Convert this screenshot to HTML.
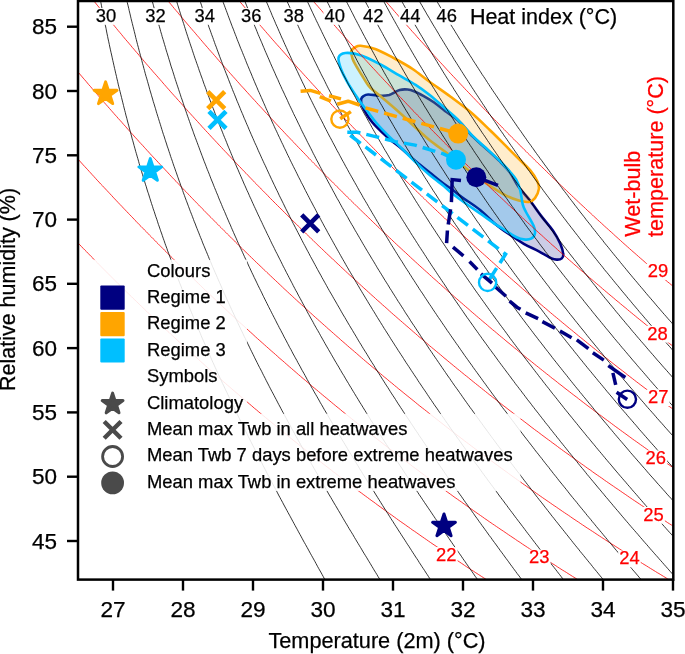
<!DOCTYPE html>
<html><head><meta charset="utf-8"><style>html,body{margin:0;padding:0;background:#fff;overflow:hidden}svg{display:block;will-change:transform}</style></head>
<body><svg width="685" height="654" viewBox="0 0 685 654"><defs><clipPath id="pc"><rect x="78" y="1" width="595" height="578.5"/></clipPath></defs><rect width="685" height="654" fill="#fff"/><path d="M361.3,98.9 C361.6,97.6 362.4,96.9 363.5,96.2 C364.6,95.5 365.1,94.6 368.1,94.5 C371.1,94.4 377.8,95.7 381.3,95.8 C384.8,95.9 387.0,95.6 389.2,95.1 C391.4,94.5 392.6,93.4 394.4,92.5 C396.1,91.6 397.5,90.4 399.7,89.9 C401.9,89.4 405.2,89.3 407.6,89.5 C410.0,89.7 411.5,90.2 414.1,91.2 C416.7,92.2 420.0,94.0 423.3,95.8 C426.6,97.6 430.2,99.8 433.8,102.3 C437.4,104.8 440.9,107.8 445.0,110.9 C449.1,114.0 453.9,116.5 458.5,120.8 C463.1,125.1 468.3,132.1 472.9,136.7 C477.5,141.3 481.6,144.5 486.0,148.5 C490.4,152.5 495.2,156.8 499.1,160.7 C503.0,164.6 506.5,167.8 509.6,172.0 C512.8,176.2 514.7,181.3 518.0,186.0 C521.3,190.7 525.7,195.0 529.6,200.0 C533.5,205.0 537.4,211.0 541.3,216.1 C545.2,221.2 549.8,226.1 553.0,230.7 C556.2,235.3 558.6,239.9 560.3,243.8 C562.0,247.7 563.0,251.6 563.2,254.0 C563.5,256.4 562.8,257.5 561.8,258.4 C560.8,259.3 559.1,259.6 557.4,259.6 C555.7,259.6 554.7,259.8 551.5,258.4 C548.3,257.0 543.0,253.5 538.4,251.1 C533.8,248.7 528.7,246.6 523.8,243.8 C518.9,241.0 514.1,237.7 509.2,234.3 C504.3,230.9 499.5,227.5 494.6,223.4 C489.8,219.3 485.6,214.3 480.1,209.9 C474.6,205.5 466.4,200.5 461.7,197.1 C457.0,193.7 455.0,191.5 452.0,189.3 C449.0,187.1 447.5,186.6 443.8,183.8 C440.1,181.1 434.6,176.5 430.0,172.8 C425.4,169.1 420.9,165.7 416.3,161.8 C411.7,157.9 407.1,153.3 402.5,149.4 C397.9,145.5 393.4,142.4 388.8,138.4 C384.2,134.4 378.3,128.7 375.0,125.3 C371.7,121.9 370.8,120.5 369.0,118.0 C367.2,115.5 365.8,112.8 364.5,110.5 C363.2,108.2 362.0,105.9 361.5,104.0 C361.0,102.1 361.0,100.2 361.3,98.9Z" fill="#000080" fill-opacity="0.2" stroke="#000080" stroke-width="2.6" stroke-linejoin="round"/><path d="M351.4,50.7 C351.9,48.8 354.0,48.0 355.5,47.2 C357.0,46.4 357.2,45.5 360.6,45.8 C364.0,46.1 370.3,47.1 375.9,49.2 C381.5,51.3 388.1,55.0 394.2,58.3 C400.3,61.6 406.8,65.1 412.6,69.0 C418.4,72.9 422.9,76.9 429.2,81.5 C435.5,86.1 443.7,91.7 450.6,96.8 C457.5,101.9 463.9,106.5 470.5,112.1 C477.1,117.7 484.4,124.9 490.3,130.5 C496.2,136.1 501.2,141.3 505.6,145.7 C510.0,150.1 512.6,152.7 516.7,156.8 C520.9,161.0 527.1,166.5 530.5,170.6 C533.9,174.7 535.9,178.2 537.3,181.3 C538.7,184.4 539.3,186.1 538.9,188.9 C538.5,191.7 536.7,195.9 535.0,198.1 C533.3,200.3 531.6,201.5 528.9,201.9 C526.2,202.3 522.7,201.7 518.8,200.6 C514.9,199.5 510.1,197.6 505.7,195.4 C501.3,193.2 497.0,190.4 492.6,187.6 C488.2,184.8 484.2,181.9 479.4,178.4 C474.6,174.9 468.3,170.0 463.7,166.5 C459.1,163.0 455.3,159.9 452.0,157.3 C448.7,154.7 447.5,153.6 443.8,150.8 C440.1,148.0 434.6,144.3 430.0,140.6 C425.4,136.8 420.7,132.4 416.3,128.3 C411.9,124.3 407.7,120.0 403.6,116.3 C399.6,112.6 395.6,109.1 392.0,106.0 C388.4,102.9 385.0,100.0 382.0,97.5 C379.0,95.0 376.3,93.0 374.0,91.0 C371.7,89.0 370.3,88.0 368.3,85.4 C366.3,82.8 363.9,78.5 361.9,75.3 C359.9,72.1 357.9,68.9 356.3,66.1 C354.7,63.3 353.3,61.1 352.5,58.5 C351.7,55.9 350.9,52.6 351.4,50.7Z" fill="#FFA500" fill-opacity="0.2" stroke="#FFA500" stroke-width="2.6" stroke-linejoin="round"/><path d="M338.6,57.5 C339.4,54.9 341.6,53.4 345.3,53.0 C349.0,52.6 354.7,53.4 360.6,55.3 C366.5,57.2 374.1,61.2 380.5,64.5 C386.9,67.8 392.9,71.8 398.8,75.2 C404.7,78.6 410.4,81.5 415.6,84.8 C420.8,88.1 425.1,91.3 430.0,95.2 C434.9,99.1 440.2,104.1 445.0,108.3 C449.8,112.5 453.9,115.7 458.5,120.3 C463.1,124.9 468.3,131.6 472.9,136.2 C477.5,140.8 481.6,144.0 486.0,148.0 C490.4,152.0 495.2,156.3 499.1,160.2 C503.0,164.1 506.8,168.1 509.6,171.3 C512.5,174.6 514.4,176.5 516.2,179.7 C518.0,182.8 519.1,186.0 520.2,190.2 C521.3,194.3 521.8,201.0 522.8,204.6 C523.8,208.2 524.2,208.5 526.0,212.0 C527.8,215.5 532.0,222.0 533.5,225.6 C535.0,229.2 535.4,231.1 535.0,233.3 C534.6,235.5 533.0,237.7 531.1,238.7 C529.2,239.7 526.2,239.7 523.8,239.4 C521.4,239.2 518.9,238.3 516.5,237.2 C514.1,236.1 512.7,235.0 509.2,232.8 C505.7,230.6 500.2,227.3 495.3,224.1 C490.4,220.9 485.1,216.9 480.0,213.4 C474.9,209.9 469.7,206.3 465.0,203.0 C460.3,199.7 455.5,196.1 452.0,193.3 C448.5,190.5 447.5,189.0 443.8,186.0 C440.1,183.0 434.6,179.2 430.0,175.3 C425.4,171.5 420.9,167.3 416.3,162.9 C411.7,158.5 407.1,153.6 402.5,149.1 C397.9,144.6 393.2,140.4 388.8,136.1 C384.4,131.8 379.8,127.0 376.4,123.0 C372.9,119.0 370.8,115.9 368.1,112.3 C365.4,108.7 362.4,104.8 360.0,101.4 C357.6,98.0 355.7,95.3 353.6,92.1 C351.5,88.8 349.3,85.8 347.2,81.9 C345.1,78.0 342.2,72.6 340.8,68.5 C339.4,64.4 337.9,60.1 338.6,57.5Z" fill="#00BFFF" fill-opacity="0.2" stroke="#00BFFF" stroke-width="2.6" stroke-linejoin="round"/><g clip-path="url(#pc)" fill="none"><path d="M78.0,242.9 79.7,244.7 81.5,246.6 83.2,248.4 84.9,250.1 86.5,251.7 88.1,253.3 89.6,254.9 91.2,256.5 92.8,258.1 94.3,259.7 95.9,261.3 97.5,262.9 99.1,264.5 100.7,266.2 102.5,268.0 104.2,269.7 106.0,271.5 107.8,273.3 109.5,275.0 111.3,276.8 113.0,278.5 114.7,280.2 116.5,282.0 118.2,283.7 120.0,285.4 121.6,287.0 123.3,288.7 124.9,290.3 126.5,291.9 128.2,293.5 129.8,295.1 131.5,296.7 133.1,298.3 134.8,299.9 136.4,301.5 138.1,303.1 139.8,304.7 141.4,306.3 143.1,307.9 144.8,309.5 146.5,311.2 148.1,312.8 149.8,314.4 151.5,316.0 153.2,317.6 155.0,319.3 156.8,320.9 158.5,322.6 160.3,324.2 162.0,325.9 163.8,327.5 165.5,329.2 167.2,330.8 169.0,332.4 170.7,334.1 172.5,335.7 174.2,337.3 176.0,338.9 177.8,340.6 179.5,342.2 181.3,343.8 183.0,345.4 184.7,347.0 186.5,348.6 188.2,350.2 190.0,351.8 191.8,353.4 193.5,355.0 195.3,356.5 197.0,358.1 198.8,359.7 200.5,361.3 202.2,362.8 204.0,364.4 205.7,366.0 207.5,367.5 209.2,369.1 211.0,370.6 212.8,372.2 214.6,373.8 216.4,375.4 218.2,377.0 220.1,378.6 221.9,380.3 223.7,381.9 225.6,383.5 227.4,385.1 229.3,386.7 231.1,388.3 233.0,389.9 234.8,391.5 236.7,393.1 238.6,394.7 240.5,396.3 242.3,397.9 244.2,399.5 246.0,401.1 247.8,402.5 249.5,404.0 251.3,405.5 253.0,407.0 254.7,408.5 256.5,409.9 258.2,411.4 260.0,412.9 261.8,414.4 263.5,415.8 265.3,417.3 267.1,418.8 269.0,420.4 271.0,422.0 272.9,423.6 274.9,425.2 276.8,426.9 278.8,428.5 280.8,430.1 282.7,431.7 284.5,433.1 286.3,434.5 288.0,436.0 289.7,437.4 291.5,438.8 293.2,440.2 295.0,441.6 296.8,443.0 298.6,444.5 300.6,446.1 302.7,447.7 304.7,449.4 306.7,451.0 308.7,452.6 310.7,454.2 312.5,455.5 314.2,456.9 316.0,458.3 317.8,459.7 319.5,461.0 321.3,462.4 323.1,463.8 325.1,465.4 327.2,467.0 329.3,468.6 331.4,470.2 333.4,471.9 335.3,473.2 337.0,474.6 338.8,475.9 340.5,477.3 342.2,478.6 344.0,479.9 346.1,481.5 348.2,483.1 350.3,484.7 352.5,486.3 354.5,487.8 356.3,489.2 358.0,490.5 359.7,491.8 361.5,493.1 363.2,494.4 365.4,496.0 367.6,497.6 369.7,499.2 371.9,500.8 373.8,502.1 375.5,503.4 377.2,504.7 379.0,506.0 380.7,507.2 382.9,508.8 385.1,510.4 387.3,512.0 389.5,513.6 391.3,514.8 393.0,516.1 394.7,517.3 396.5,518.6 398.5,520.1 400.8,521.7 403.1,523.3 405.3,524.8 407.0,526.1 408.8,527.3 410.5,528.5 412.2,529.8 414.5,531.3 416.8,532.9 419.1,534.5 421.0,535.9 422.8,537.1 424.5,538.3 426.3,539.5 428.4,541.0 430.7,542.6 433.0,544.2 435.0,545.5 436.8,546.7 438.5,547.9 440.3,549.1 442.5,550.6 444.9,552.2 447.2,553.8 449.0,555.0 450.7,556.2 452.5,557.3 454.4,558.6 456.8,560.2 459.3,561.8 461.3,563.2 463.0,564.3 464.7,565.5 466.5,566.7 469.0,568.3 471.4,569.9 473.5,571.2 475.2,572.4 477.0,573.5 478.8,574.7 481.3,576.3 483.8,577.9 485.8,579.2 486.3,579.5" stroke="#ff0000" stroke-width="0.8"/><path d="M78.0,159.1 79.7,161.0 81.5,163.0 83.2,164.9 84.7,166.5 86.2,168.1 87.7,169.7 89.1,171.3 90.6,172.9 92.1,174.6 93.8,176.4 95.5,178.3 97.2,180.2 99.0,182.1 100.7,184.0 102.5,185.8 104.0,187.4 105.5,189.0 107.0,190.6 108.5,192.2 110.0,193.8 111.5,195.4 113.0,197.1 114.7,198.9 116.5,200.8 118.2,202.6 120.0,204.5 121.8,206.3 123.5,208.2 125.2,209.9 126.7,211.5 128.2,213.1 129.8,214.7 131.3,216.3 132.9,217.9 134.4,219.6 136.0,221.2 137.5,222.8 139.2,224.6 141.0,226.4 142.8,228.2 144.5,230.0 146.3,231.7 148.0,233.5 149.7,235.3 151.5,237.1 153.2,238.8 154.8,240.4 156.4,242.1 158.0,243.7 159.6,245.3 161.2,246.9 162.8,248.5 164.4,250.1 166.0,251.7 167.6,253.3 169.2,254.9 170.8,256.5 172.5,258.2 174.2,259.9 176.0,261.7 177.8,263.4 179.5,265.1 181.3,266.8 183.0,268.6 184.7,270.3 186.5,272.0 188.2,273.7 190.0,275.4 191.8,277.1 193.5,278.8 195.3,280.5 197.0,282.2 198.7,283.8 200.4,285.4 202.1,287.0 203.7,288.7 205.4,290.3 207.1,291.9 208.8,293.5 210.5,295.1 212.2,296.7 213.9,298.3 215.6,299.9 217.3,301.5 219.0,303.1 220.7,304.7 222.4,306.3 224.1,307.9 225.9,309.5 227.6,311.2 229.3,312.8 231.0,314.4 232.8,316.0 234.5,317.6 236.3,319.2 238.0,320.8 239.7,322.4 241.5,324.0 243.3,325.6 245.0,327.2 246.8,328.8 248.5,330.4 250.3,332.0 252.1,333.6 253.9,335.3 255.6,336.9 257.4,338.5 259.2,340.1 261.0,341.7 262.8,343.3 264.6,344.9 266.4,346.5 268.2,348.1 270.0,349.7 271.8,351.3 273.7,352.9 275.5,354.5 277.3,356.1 279.1,357.8 281.0,359.4 282.8,360.9 284.5,362.4 286.3,364.0 288.0,365.5 289.7,367.0 291.5,368.5 293.2,370.0 295.0,371.5 296.8,373.1 298.5,374.6 300.3,376.1 302.0,377.6 303.8,379.1 305.5,380.5 307.2,382.0 309.0,383.5 310.8,385.1 312.7,386.7 314.6,388.3 316.6,389.9 318.5,391.5 320.4,393.1 322.3,394.7 324.2,396.3 326.2,397.9 328.1,399.5 330.0,401.1 331.8,402.6 333.5,404.0 335.2,405.4 337.0,406.9 338.8,408.3 340.5,409.7 342.2,411.2 344.0,412.6 345.7,414.0 347.7,415.6 349.7,417.2 351.7,418.8 353.7,420.4 355.7,422.0 357.7,423.6 359.7,425.2 361.5,426.7 363.2,428.1 365.0,429.5 366.8,430.9 368.5,432.3 370.2,433.7 372.0,435.0 373.9,436.5 375.9,438.1 377.9,439.7 380.0,441.3 382.1,442.9 384.1,444.5 386.0,446.0 387.8,447.3 389.5,448.7 391.3,450.1 393.0,451.4 394.7,452.7 396.6,454.2 398.7,455.8 400.8,457.4 402.9,459.0 405.0,460.6 407.0,462.1 408.8,463.4 410.5,464.7 412.2,466.1 414.0,467.4 415.7,468.7 417.8,470.2 420.0,471.9 422.1,473.5 424.3,475.1 426.3,476.5 428.0,477.8 429.7,479.1 431.5,480.4 433.2,481.7 435.2,483.1 437.4,484.7 439.6,486.3 441.8,487.9 443.8,489.4 445.5,490.6 447.2,491.9 449.0,493.2 450.7,494.4 452.9,496.0 455.1,497.6 457.4,499.2 459.5,500.7 461.3,501.9 463.0,503.2 464.7,504.4 466.5,505.7 468.7,507.2 470.9,508.8 473.2,510.4 475.2,511.8 477.0,513.1 478.8,514.3 480.5,515.5 482.4,516.8 484.7,518.5 487.1,520.1 489.2,521.6 491.0,522.8 492.7,524.0 494.5,525.2 496.4,526.5 498.8,528.1 501.1,529.7 503.3,531.1 505.0,532.3 506.8,533.5 508.5,534.7 510.6,536.1 513.0,537.7 515.4,539.3 517.2,540.6 519.0,541.7 520.8,542.9 522.6,544.2 525.1,545.8 527.5,547.4 529.5,548.7 531.2,549.9 533.0,551.0 534.8,552.2 537.3,553.8 539.7,555.4 541.8,556.7 543.5,557.9 545.2,559.0 547.2,560.2 549.7,561.8 552.2,563.5 554.0,564.6 555.8,565.7 557.5,566.9 559.7,568.3 562.2,569.9 564.5,571.3 566.3,572.4 568.0,573.5 569.9,574.7 572.4,576.3 575.0,577.9 576.8,579.0 577.6,579.5" stroke="#ff0000" stroke-width="0.8"/><path d="M78.0,72.0 79.7,74.0 81.5,76.1 83.2,78.1 84.6,79.7 86.0,81.3 87.4,83.0 88.7,84.6 90.3,86.3 92.0,88.4 93.8,90.4 95.5,92.4 97.1,94.2 98.4,95.8 99.8,97.4 101.2,99.0 102.6,100.6 104.2,102.5 106.0,104.5 107.8,106.5 109.5,108.5 111.1,110.3 112.5,111.9 113.9,113.5 115.3,115.1 116.8,116.7 118.2,118.4 120.0,120.3 121.8,122.3 123.5,124.3 125.3,126.2 126.8,128.0 128.2,129.6 129.7,131.2 131.1,132.8 132.6,134.4 134.0,136.0 135.7,137.9 137.5,139.8 139.2,141.8 141.0,143.7 142.8,145.6 144.2,147.2 145.7,148.8 147.2,150.5 148.7,152.1 150.1,153.7 151.6,155.3 153.2,157.0 155.0,158.9 156.8,160.8 158.5,162.7 160.3,164.6 162.0,166.5 163.6,168.1 165.1,169.7 166.6,171.3 168.1,172.9 169.6,174.6 171.1,176.2 172.6,177.8 174.2,179.5 176.0,181.3 177.8,183.2 179.5,185.0 181.3,186.9 183.0,188.7 184.7,190.5 186.4,192.2 187.9,193.8 189.5,195.4 191.0,197.1 192.6,198.7 194.1,200.3 195.7,201.9 197.2,203.5 198.8,205.1 200.5,206.8 202.2,208.6 204.0,210.4 205.7,212.2 207.5,214.0 209.2,215.8 211.0,217.5 212.8,219.3 214.5,221.1 216.2,222.8 217.8,224.4 219.4,226.0 221.0,227.6 222.6,229.2 224.2,230.8 225.8,232.4 227.4,234.0 229.0,235.6 230.7,237.2 232.3,238.8 233.9,240.4 235.5,242.1 237.2,243.7 239.0,245.5 240.7,247.2 242.5,248.9 244.2,250.6 246.0,252.3 247.8,254.0 249.5,255.7 251.3,257.4 253.0,259.1 254.7,260.8 256.5,262.5 258.2,264.1 260.0,265.8 261.8,267.5 263.5,269.2 265.3,270.8 267.0,272.5 268.8,274.2 270.5,275.8 272.2,277.4 273.9,279.0 275.6,280.6 277.3,282.2 279.0,283.8 280.7,285.4 282.4,287.0 284.1,288.7 285.9,290.3 287.6,291.9 289.3,293.5 291.1,295.1 292.8,296.7 294.5,298.3 296.3,299.9 298.0,301.5 299.8,303.1 301.5,304.7 303.3,306.3 305.1,307.9 306.8,309.5 308.6,311.2 310.4,312.8 312.2,314.4 313.9,316.0 315.7,317.6 317.5,319.2 319.3,320.8 321.1,322.4 322.9,324.0 324.7,325.6 326.5,327.2 328.2,328.8 330.0,330.3 331.8,331.9 333.5,333.4 335.3,335.0 337.0,336.5 338.8,338.0 340.5,339.6 342.2,341.1 344.0,342.6 345.7,344.1 347.5,345.7 349.2,347.2 351.0,348.7 352.8,350.2 354.5,351.7 356.3,353.2 358.0,354.7 359.7,356.2 361.6,357.8 363.4,359.4 365.3,361.0 367.2,362.6 369.1,364.2 371.0,365.8 372.9,367.4 374.8,369.0 376.7,370.6 378.7,372.2 380.6,373.8 382.5,375.4 384.2,376.9 386.0,378.3 387.8,379.8 389.5,381.3 391.3,382.7 393.0,384.1 394.7,385.6 396.5,387.0 398.2,388.5 400.0,389.9 402.0,391.5 403.9,393.1 405.9,394.7 407.9,396.3 409.9,397.9 411.9,399.5 413.9,401.1 415.8,402.7 417.5,404.1 419.2,405.5 421.0,406.9 422.8,408.3 424.5,409.6 426.3,411.0 428.0,412.4 430.0,414.0 432.0,415.6 434.1,417.2 436.1,418.8 438.2,420.4 440.2,422.0 442.0,423.4 443.8,424.8 445.5,426.2 447.2,427.5 449.0,428.9 450.7,430.2 452.6,431.7 454.7,433.3 456.8,434.9 458.9,436.5 461.0,438.1 463.0,439.6 464.7,441.0 466.5,442.3 468.3,443.6 470.0,444.9 471.8,446.3 473.7,447.7 475.9,449.4 478.0,451.0 480.2,452.6 482.2,454.1 484.0,455.4 485.8,456.7 487.5,458.0 489.2,459.3 491.0,460.6 493.2,462.2 495.3,463.8 497.5,465.4 499.7,467.0 501.5,468.3 503.3,469.6 505.0,470.9 506.8,472.1 508.6,473.5 510.8,475.1 513.0,476.7 515.3,478.3 517.2,479.7 519.0,481.0 520.8,482.2 522.5,483.5 524.3,484.7 526.5,486.3 528.8,487.9 531.1,489.5 533.0,490.9 534.7,492.1 536.5,493.4 538.3,494.6 540.2,496.0 542.5,497.6 544.8,499.2 547.0,500.7 548.8,501.9 550.5,503.1 552.2,504.3 554.1,505.6 556.5,507.2 558.8,508.8 561.0,510.3 562.7,511.5 564.5,512.7 566.3,513.9 568.3,515.2 570.6,516.8 573.0,518.5 575.0,519.8 576.8,521.0 578.5,522.1 580.2,523.3 582.6,524.9 585.0,526.5 587.2,528.0 589.0,529.1 590.8,530.3 592.5,531.4 594.8,532.9 597.2,534.5 599.5,536.0 601.3,537.2 603.0,538.3 604.7,539.4 607.1,541.0 609.6,542.6 611.8,544.0 613.5,545.1 615.2,546.2 617.1,547.4 619.6,549.0 622.1,550.6 624.0,551.8 625.8,552.9 627.5,554.0 629.7,555.4 632.2,557.0 634.5,558.5 636.3,559.6 638.0,560.6 639.9,561.8 642.5,563.5 645.0,565.0 646.8,566.1 648.5,567.2 650.3,568.3 652.9,569.9 655.5,571.5 657.2,572.6 659.0,573.6 660.8,574.7 663.4,576.3 666.0,577.9 667.7,579.0 668.7,579.5" stroke="#ff0000" stroke-width="0.8"/><path d="M93.9,1.0 95.5,3.0 97.2,5.1 99.0,7.3 100.4,9.0 101.7,10.6 103.1,12.2 104.4,13.9 106.0,15.8 107.8,18.0 109.5,20.1 111.0,21.9 112.3,23.5 113.7,25.1 115.0,26.7 116.5,28.5 118.2,30.6 120.0,32.7 121.7,34.7 123.0,36.4 124.4,38.0 125.7,39.6 127.1,41.2 128.8,43.2 130.5,45.2 132.2,47.3 133.9,49.2 135.2,50.8 136.6,52.4 138.0,54.0 139.3,55.6 141.0,57.6 142.8,59.6 144.5,61.7 146.2,63.7 147.6,65.3 149.0,66.9 150.4,68.5 151.8,70.1 153.2,71.8 155.0,73.8 156.8,75.8 158.5,77.8 160.2,79.7 161.6,81.3 163.0,83.0 164.4,84.6 165.8,86.2 167.2,87.8 169.0,89.8 170.7,91.8 172.5,93.8 174.2,95.7 175.8,97.4 177.2,99.0 178.6,100.6 180.1,102.2 181.5,103.8 183.0,105.5 184.7,107.5 186.5,109.4 188.2,111.4 190.0,113.3 191.6,115.1 193.1,116.7 194.5,118.3 196.0,119.9 197.5,121.5 198.9,123.1 200.5,124.8 202.2,126.8 204.0,128.7 205.7,130.6 207.5,132.5 209.3,134.4 210.7,136.0 212.2,137.6 213.7,139.2 215.2,140.8 216.7,142.4 218.2,144.0 219.7,145.7 221.5,147.5 223.2,149.4 225.0,151.3 226.8,153.1 228.5,155.0 230.3,156.8 231.8,158.5 233.3,160.1 234.9,161.7 236.4,163.3 237.9,164.9 239.5,166.5 241.0,168.1 242.5,169.7 244.2,171.5 246.0,173.3 247.8,175.1 249.5,177.0 251.3,178.8 253.0,180.6 254.7,182.4 256.5,184.2 258.1,185.8 259.7,187.4 261.2,189.0 262.8,190.6 264.4,192.2 266.0,193.8 267.6,195.4 269.1,197.1 270.7,198.7 272.3,200.3 274.0,202.0 275.7,203.7 277.5,205.5 279.2,207.2 281.0,209.0 282.8,210.7 284.5,212.5 286.3,214.2 288.0,215.9 289.7,217.7 291.5,219.4 293.2,221.1 294.9,222.8 296.6,224.4 298.2,226.0 299.8,227.6 301.5,229.2 303.1,230.8 304.8,232.4 306.4,234.0 308.1,235.6 309.8,237.2 311.4,238.8 313.1,240.4 314.8,242.1 316.4,243.7 318.1,245.3 319.8,246.9 321.5,248.5 323.2,250.1 324.8,251.7 326.5,253.3 328.2,254.9 330.0,256.6 331.8,258.2 333.5,259.9 335.3,261.5 337.0,263.2 338.8,264.8 340.5,266.4 342.2,268.1 344.0,269.7 345.7,271.3 347.5,273.0 349.2,274.6 351.0,276.2 352.8,277.8 354.5,279.4 356.3,281.0 358.0,282.6 359.7,284.2 361.5,285.8 363.2,287.4 365.0,289.0 366.8,290.6 368.5,292.2 370.3,293.8 372.0,295.4 373.8,296.9 375.5,298.5 377.2,300.1 379.0,301.6 380.8,303.2 382.5,304.8 384.3,306.3 386.1,307.9 387.9,309.5 389.7,311.2 391.5,312.8 393.3,314.4 395.2,316.0 397.0,317.6 398.8,319.2 400.7,320.8 402.5,322.4 404.4,324.0 406.2,325.6 408.1,327.2 409.9,328.8 411.8,330.4 413.6,332.0 415.5,333.6 417.4,335.3 419.2,336.9 421.0,338.3 422.8,339.8 424.5,341.3 426.3,342.8 428.0,344.3 429.7,345.8 431.5,347.3 433.2,348.7 435.0,350.2 436.8,351.7 438.5,353.1 440.3,354.6 442.1,356.1 444.0,357.8 446.0,359.4 447.9,361.0 449.8,362.6 451.8,364.2 453.7,365.8 455.7,367.4 457.6,369.0 459.5,370.5 461.3,372.0 463.0,373.4 464.7,374.8 466.5,376.2 468.3,377.6 470.0,379.1 471.8,380.5 473.5,381.9 475.5,383.5 477.5,385.1 479.5,386.7 481.5,388.3 483.5,389.9 485.5,391.5 487.5,393.1 489.2,394.5 491.0,395.8 492.7,397.2 494.5,398.6 496.3,400.0 498.0,401.4 499.8,402.8 501.8,404.4 503.9,406.0 506.0,407.6 508.0,409.2 510.1,410.8 512.0,412.2 513.8,413.6 515.5,414.9 517.2,416.3 519.0,417.6 520.8,419.0 522.7,420.4 524.8,422.0 526.9,423.6 529.0,425.2 531.1,426.9 533.0,428.3 534.7,429.6 536.5,430.9 538.3,432.2 540.0,433.5 541.8,434.9 544.0,436.5 546.1,438.1 548.3,439.7 550.5,441.3 552.2,442.6 554.0,443.9 555.8,445.2 557.5,446.5 559.2,447.8 561.4,449.4 563.6,451.0 565.8,452.6 568.0,454.1 569.7,455.4 571.5,456.7 573.3,457.9 575.0,459.2 576.9,460.6 579.2,462.2 581.4,463.8 583.7,465.4 585.5,466.7 587.2,468.0 589.0,469.2 590.8,470.4 592.7,471.9 595.0,473.5 597.3,475.1 599.5,476.6 601.3,477.8 603.0,479.0 604.7,480.3 606.5,481.5 608.8,483.1 611.1,484.7 613.5,486.3 615.2,487.5 617.0,488.7 618.8,489.9 620.5,491.1 622.8,492.7 625.2,494.3 627.5,495.9 629.2,497.1 631.0,498.3 632.7,499.5 634.7,500.8 637.1,502.4 639.5,504.0 641.5,505.4 643.3,506.5 645.0,507.7 646.8,508.9 649.1,510.4 651.5,512.0 653.8,513.5 655.5,514.6 657.2,515.8 659.0,516.9 661.3,518.5 663.8,520.1 666.0,521.5 667.7,522.7 669.5,523.8 671.3,524.9 673.0,526.1" stroke="#ff0000" stroke-width="0.8"/><path d="M168.1,1.0 169.4,2.6 170.8,4.2 172.5,6.3 174.2,8.4 176.0,10.5 177.5,12.2 178.8,13.9 180.2,15.5 181.5,17.1 183.0,18.8 184.7,20.9 186.5,23.0 188.2,25.0 189.7,26.7 191.0,28.3 192.4,29.9 193.8,31.5 195.3,33.2 197.0,35.3 198.8,37.3 200.5,39.4 202.1,41.2 203.4,42.8 204.8,44.4 206.2,46.0 207.6,47.6 209.2,49.5 211.0,51.5 212.8,53.5 214.5,55.5 216.0,57.2 217.4,58.9 218.8,60.5 220.2,62.1 221.6,63.7 223.2,65.5 225.0,67.5 226.8,69.5 228.5,71.4 230.2,73.3 231.6,74.9 233.0,76.5 234.5,78.1 235.9,79.7 237.3,81.3 239.0,83.2 240.7,85.2 242.5,87.1 244.3,89.0 246.0,91.0 247.5,92.6 248.9,94.2 250.4,95.8 251.8,97.4 253.3,99.0 254.8,100.6 256.5,102.5 258.2,104.4 260.0,106.3 261.8,108.2 263.5,110.1 265.1,111.9 266.6,113.5 268.1,115.1 269.6,116.7 271.1,118.3 272.6,119.9 274.1,121.5 275.7,123.3 277.5,125.2 279.2,127.1 281.0,128.9 282.8,130.8 284.5,132.7 286.1,134.4 287.6,136.0 289.2,137.6 290.7,139.2 292.2,140.8 293.8,142.4 295.3,144.0 296.8,145.6 298.5,147.4 300.3,149.2 302.0,151.0 303.8,152.8 305.5,154.6 307.2,156.5 309.0,158.3 310.7,160.1 312.3,161.7 313.9,163.3 315.5,164.9 317.0,166.5 318.6,168.1 320.2,169.7 321.8,171.3 323.4,172.9 324.9,174.6 326.5,176.2 328.2,177.9 330.0,179.7 331.8,181.4 333.5,183.2 335.3,184.9 337.0,186.7 338.8,188.4 340.5,190.2 342.2,191.9 344.0,193.7 345.8,195.4 347.4,197.1 349.1,198.7 350.7,200.3 352.3,201.9 354.0,203.5 355.6,205.1 357.2,206.7 358.9,208.3 360.5,209.9 362.2,211.5 363.8,213.1 365.5,214.7 367.2,216.3 368.8,217.9 370.5,219.6 372.2,221.2 373.8,222.8 375.5,224.4 377.2,226.0 379.0,227.7 380.7,229.4 382.5,231.1 384.2,232.7 386.0,234.4 387.8,236.0 389.5,237.7 391.3,239.3 393.0,241.0 394.7,242.6 396.5,244.3 398.2,245.9 400.0,247.5 401.8,249.2 403.5,250.8 405.3,252.4 407.0,254.0 408.8,255.7 410.5,257.3 412.2,258.9 414.0,260.5 415.7,262.1 417.5,263.7 419.2,265.3 421.0,266.9 422.8,268.5 424.5,270.1 426.3,271.7 428.0,273.2 429.7,274.8 431.5,276.4 433.2,278.0 435.0,279.5 436.8,281.1 438.5,282.7 440.3,284.2 442.0,285.8 443.8,287.4 445.5,288.9 447.2,290.5 449.0,292.0 450.7,293.6 452.5,295.1 454.3,296.7 456.1,298.3 458.0,299.9 459.8,301.5 461.7,303.1 463.5,304.7 465.3,306.3 467.2,307.9 469.1,309.5 470.9,311.2 472.8,312.8 474.7,314.4 476.5,316.0 478.4,317.6 480.3,319.2 482.2,320.8 484.0,322.4 485.8,323.8 487.5,325.3 489.2,326.8 491.0,328.3 492.7,329.8 494.5,331.2 496.3,332.7 498.0,334.2 499.7,335.6 501.5,337.1 503.3,338.5 505.1,340.1 507.0,341.7 509.0,343.3 510.9,344.9 512.9,346.5 514.8,348.1 516.8,349.7 518.7,351.3 520.7,352.9 522.5,354.4 524.2,355.8 526.0,357.3 527.7,358.7 529.5,360.1 531.3,361.5 533.0,362.9 534.7,364.3 536.6,365.8 538.6,367.4 540.6,369.0 542.6,370.6 544.6,372.2 546.6,373.8 548.7,375.4 550.5,376.9 552.2,378.3 554.0,379.6 555.8,381.0 557.5,382.4 559.2,383.8 561.0,385.1 563.0,386.7 565.0,388.3 567.1,389.9 569.2,391.5 571.2,393.1 573.3,394.7 575.0,396.0 576.8,397.3 578.5,398.7 580.2,400.0 582.0,401.4 583.8,402.8 585.9,404.4 588.0,406.0 590.2,407.6 592.3,409.2 594.2,410.7 596.0,412.0 597.7,413.3 599.5,414.6 601.3,415.9 603.0,417.2 605.1,418.8 607.3,420.4 609.5,422.0 611.6,423.6 613.5,425.0 615.2,426.3 617.0,427.6 618.8,428.9 620.5,430.2 622.6,431.7 624.8,433.3 627.0,434.9 629.2,436.5 631.0,437.8 632.7,439.1 634.5,440.4 636.3,441.6 638.1,442.9 640.3,444.5 642.6,446.1 644.8,447.7 646.8,449.1 648.5,450.4 650.2,451.6 652.0,452.9 653.9,454.2 656.1,455.8 658.4,457.4 660.7,459.0 662.5,460.2 664.2,461.5 666.0,462.7 667.7,463.9 669.9,465.4 672.2,467.0 673.0,467.6" stroke="#ff0000" stroke-width="0.8"/><path d="M239.3,1.0 240.7,2.7 242.5,4.7 244.2,6.8 246.0,8.8 247.5,10.6 248.9,12.2 250.3,13.9 251.7,15.5 253.1,17.1 254.7,19.0 256.5,21.1 258.2,23.1 260.0,25.1 261.4,26.7 262.8,28.3 264.2,29.9 265.6,31.5 267.0,33.2 268.8,35.2 270.5,37.2 272.2,39.2 274.0,41.2 275.4,42.8 276.8,44.4 278.3,46.0 279.7,47.6 281.1,49.2 282.8,51.1 284.5,53.0 286.3,55.0 288.0,57.0 289.7,58.9 291.1,60.5 292.6,62.1 294.0,63.7 295.5,65.3 296.9,66.9 298.5,68.7 300.3,70.6 302.0,72.5 303.8,74.5 305.5,76.4 307.1,78.1 308.6,79.7 310.0,81.3 311.5,83.0 313.0,84.6 314.5,86.2 316.0,87.9 317.8,89.8 319.5,91.6 321.3,93.5 323.0,95.4 324.7,97.3 326.3,99.0 327.8,100.6 329.3,102.2 330.8,103.8 332.4,105.5 333.9,107.1 335.4,108.7 337.0,110.4 338.8,112.3 340.5,114.1 342.2,116.0 344.0,117.8 345.7,119.6 347.5,121.5 349.1,123.1 350.6,124.7 352.1,126.3 353.7,128.0 355.2,129.6 356.8,131.2 358.3,132.8 359.9,134.4 361.5,136.1 363.2,137.9 365.0,139.7 366.8,141.5 368.5,143.3 370.3,145.1 372.0,146.8 373.8,148.6 375.5,150.4 377.1,152.1 378.7,153.7 380.3,155.3 381.9,156.9 383.5,158.5 385.1,160.1 386.7,161.7 388.3,163.3 389.9,164.9 391.5,166.5 393.1,168.1 394.7,169.8 396.5,171.5 398.2,173.3 400.0,175.0 401.8,176.7 403.5,178.5 405.2,180.2 407.0,181.9 408.8,183.6 410.5,185.4 412.2,187.1 414.0,188.8 415.7,190.5 417.5,192.2 419.2,193.8 420.9,195.4 422.5,197.1 424.2,198.7 425.8,200.3 427.5,201.9 429.2,203.5 430.9,205.1 432.5,206.7 434.2,208.3 435.9,209.9 437.6,211.5 439.3,213.1 441.0,214.7 442.7,216.3 444.4,217.9 446.1,219.6 447.8,221.2 449.5,222.8 451.2,224.4 452.9,226.0 454.7,227.6 456.4,229.2 458.1,230.8 459.8,232.4 461.6,234.0 463.3,235.6 465.0,237.2 466.8,238.8 468.5,240.4 470.3,242.1 472.0,243.7 473.8,245.3 475.5,246.9 477.3,248.5 479.1,250.1 480.8,251.7 482.6,253.3 484.4,254.9 486.2,256.5 488.0,258.1 489.7,259.7 491.5,261.3 493.3,262.9 495.1,264.5 496.9,266.2 498.7,267.8 500.5,269.4 502.3,271.0 504.2,272.6 506.0,274.2 507.8,275.8 509.6,277.4 511.5,279.0 513.3,280.6 515.1,282.2 517.0,283.8 518.8,285.4 520.6,287.0 522.5,288.7 524.2,290.2 526.0,291.7 527.7,293.2 529.5,294.7 531.3,296.2 533.0,297.7 534.7,299.2 536.5,300.7 538.3,302.2 540.0,303.7 541.8,305.2 543.5,306.7 545.2,308.1 547.0,309.6 548.8,311.2 550.7,312.8 552.6,314.4 554.5,316.0 556.5,317.6 558.4,319.2 560.3,320.8 562.2,322.4 564.2,324.0 566.1,325.6 568.0,327.2 569.7,328.6 571.5,330.0 573.3,331.5 575.0,332.9 576.8,334.4 578.5,335.8 580.2,337.2 582.0,338.6 583.8,340.1 585.8,341.7 587.7,343.3 589.7,344.9 591.7,346.5 593.7,348.1 595.7,349.7 597.7,351.3 599.5,352.7 601.3,354.1 603.0,355.5 604.7,356.9 606.5,358.3 608.3,359.7 610.0,361.1 611.9,362.6 613.9,364.2 616.0,365.8 618.0,367.4 620.1,369.0 622.2,370.6 624.0,372.0 625.8,373.4 627.5,374.8 629.2,376.1 631.0,377.5 632.7,378.8 634.6,380.3 636.7,381.9 638.8,383.5 640.9,385.1 643.0,386.7 645.0,388.2 646.8,389.5 648.5,390.8 650.2,392.2 652.0,393.5 653.8,394.8 655.8,396.3 657.9,397.9 660.1,399.5 662.2,401.1 664.2,402.7 666.0,404.0 667.7,405.3 669.5,406.6 671.3,407.9 673.0,409.2" stroke="#ff0000" stroke-width="0.8"/><path d="M313.1,1.0 314.5,2.6 316.0,4.3 317.8,6.3 319.5,8.3 321.3,10.3 322.9,12.2 324.3,13.9 325.7,15.5 327.1,17.1 328.5,18.7 330.0,20.3 331.8,22.3 333.5,24.3 335.3,26.3 337.0,28.3 338.5,29.9 339.9,31.5 341.3,33.1 342.8,34.7 344.2,36.4 345.7,38.1 347.5,40.0 349.2,42.0 351.0,43.9 352.8,45.9 354.3,47.6 355.8,49.2 357.2,50.8 358.7,52.4 360.1,54.0 361.6,55.6 363.2,57.4 365.0,59.4 366.8,61.3 368.5,63.2 370.2,65.1 371.9,66.9 373.4,68.5 374.9,70.1 376.4,71.7 377.8,73.3 379.3,74.9 380.8,76.5 382.5,78.3 384.2,80.2 386.0,82.1 387.8,83.9 389.5,85.8 391.3,87.7 392.9,89.4 394.4,91.0 395.9,92.6 397.4,94.2 398.9,95.8 400.5,97.4 402.0,99.0 403.5,100.6 405.3,102.4 407.0,104.3 408.8,106.1 410.5,107.9 412.2,109.8 414.0,111.6 415.7,113.4 417.4,115.1 419.0,116.7 420.5,118.3 422.1,119.9 423.6,121.5 425.2,123.1 426.8,124.7 428.3,126.3 429.9,128.0 431.5,129.6 433.2,131.3 435.0,133.1 436.8,134.9 438.5,136.7 440.3,138.4 442.0,140.2 443.8,142.0 445.5,143.7 447.2,145.5 449.0,147.2 450.6,148.8 452.2,150.5 453.9,152.1 455.5,153.7 457.1,155.3 458.7,156.9 460.3,158.5 462.0,160.1 463.6,161.7 465.2,163.3 466.9,164.9 468.5,166.5 470.2,168.1 471.8,169.7 473.5,171.4 475.2,173.1 477.0,174.8 478.8,176.5 480.5,178.2 482.2,179.9 484.0,181.5 485.8,183.2 487.5,184.9 489.2,186.6 491.0,188.3 492.7,189.9 494.5,191.6 496.3,193.3 498.0,194.9 499.7,196.6 501.5,198.2 503.3,199.9 505.0,201.5 506.8,203.2 508.5,204.8 510.2,206.5 512.0,208.1 513.8,209.7 515.5,211.4 517.2,213.0 519.0,214.6 520.8,216.2 522.5,217.8 524.2,219.5 526.0,221.1 527.7,222.7 529.5,224.3 531.3,225.9 533.0,227.5 534.7,229.1 536.5,230.7 538.3,232.3 540.0,233.9 541.8,235.4 543.5,237.0 545.2,238.6 547.0,240.2 548.8,241.7 550.5,243.3 552.2,244.9 554.0,246.4 555.8,248.0 557.5,249.6 559.2,251.1 561.0,252.7 562.7,254.2 564.5,255.8 566.3,257.3 568.0,258.9 569.7,260.4 571.5,261.9 573.3,263.5 575.0,265.0 576.8,266.5 578.5,268.0 580.2,269.6 582.0,271.1 583.8,272.6 585.6,274.2 587.5,275.8 589.3,277.4 591.2,279.0 593.1,280.6 594.9,282.2 596.8,283.8 598.7,285.4 600.6,287.0 602.5,288.7 604.4,290.3 606.3,291.9 608.2,293.5 610.0,295.0 611.8,296.5 613.5,297.9 615.2,299.4 617.0,300.9 618.8,302.3 620.5,303.8 622.2,305.2 624.0,306.7 625.8,308.1 627.5,309.6 629.4,311.2 631.4,312.8 633.3,314.4 635.3,316.0 637.2,317.6 639.2,319.2 641.2,320.8 643.2,322.4 645.0,323.9 646.7,325.3 648.5,326.7 650.2,328.1 652.0,329.5 653.8,330.9 655.5,332.4 657.2,333.8 659.1,335.3 661.1,336.9 663.2,338.5 665.2,340.1 667.2,341.7 669.2,343.3 671.3,344.9 673.0,346.3" stroke="#ff0000" stroke-width="0.8"/><path d="M385.5,1.0 386.9,2.6 388.3,4.2 389.7,5.8 391.3,7.6 393.0,9.6 394.7,11.6 396.5,13.6 398.1,15.5 399.6,17.1 401.0,18.7 402.4,20.3 403.8,21.9 405.3,23.5 407.0,25.5 408.8,27.5 410.5,29.4 412.2,31.4 413.8,33.1 415.3,34.7 416.7,36.4 418.1,38.0 419.6,39.6 421.0,41.2 422.8,43.1 424.5,45.0 426.3,47.0 428.0,48.9 429.7,50.8 431.2,52.4 432.7,54.0 434.1,55.6 435.6,57.2 437.1,58.9 438.6,60.5 440.3,62.3 442.0,64.2 443.8,66.1 445.5,68.0 447.2,69.9 448.9,71.7 450.4,73.3 451.9,74.9 453.4,76.5 454.9,78.1 456.4,79.7 457.9,81.3 459.5,83.0 461.3,84.9 463.0,86.7 464.7,88.6 466.5,90.4 468.3,92.3 470.0,94.1 471.6,95.8 473.1,97.4 474.7,99.0 476.2,100.6 477.7,102.2 479.3,103.8 480.8,105.5 482.4,107.1 484.0,108.8 485.8,110.6 487.5,112.4 489.2,114.2 491.0,116.0 492.7,117.8 494.5,119.6 496.3,121.4 498.0,123.1 499.5,124.7 501.1,126.3 502.7,128.0 504.3,129.6 505.9,131.2 507.4,132.8 509.0,134.4 510.6,136.0 512.2,137.6 513.8,139.2 515.5,140.9 517.2,142.6 519.0,144.4 520.8,146.1 522.5,147.9 524.2,149.6 526.0,151.4 527.7,153.1 529.5,154.8 531.3,156.6 533.0,158.3 534.7,160.0 536.5,161.7 538.1,163.3 539.8,164.9 541.4,166.5 543.1,168.1 544.7,169.7 546.4,171.3 548.0,172.9 549.7,174.6 551.3,176.2 553.0,177.8 554.7,179.4 556.3,181.0 558.0,182.6 559.7,184.2 561.4,185.8 563.1,187.4 564.8,189.0 566.4,190.6 568.1,192.2 569.8,193.8 571.5,195.4 573.3,197.1 575.0,198.7 576.8,200.4 578.5,202.0 580.2,203.6 582.0,205.3 583.8,206.9 585.5,208.5 587.2,210.2 589.0,211.8 590.8,213.4 592.5,215.0 594.2,216.7 596.0,218.3 597.7,219.9 599.5,221.5 601.3,223.1 603.0,224.7 604.7,226.3 606.5,227.9 608.3,229.5 610.0,231.1 611.8,232.6 613.5,234.2 615.2,235.8 617.0,237.4 618.8,239.0 620.5,240.5 622.2,242.1 624.0,243.7 625.8,245.3 627.6,246.9 629.4,248.5 631.2,250.1 633.0,251.7 634.9,253.3 636.7,254.9 638.5,256.5 640.3,258.1 642.2,259.7 644.0,261.3 645.8,262.9 647.7,264.5 649.5,266.2 651.4,267.8 653.2,269.4 655.1,271.0 656.9,272.6 658.8,274.2 660.7,275.8 662.5,277.4 664.2,278.9 666.0,280.4 667.7,281.9 669.5,283.3 671.3,284.8 673.0,286.3" stroke="#ff0000" stroke-width="0.8"/><path d="M100.6,1.0 100.9,2.6 101.5,5.8 102.1,9.0 102.5,10.9 103.1,13.9 103.7,17.1 104.2,19.8 104.7,21.9 105.3,25.1 106.0,28.3 106.3,29.9 106.9,33.1 107.6,36.4 107.9,38.0 108.6,41.2 109.3,44.4 109.6,46.0 110.3,49.2 111.0,52.4 111.4,54.0 112.1,57.2 112.8,60.5 113.2,62.1 113.9,65.3 114.6,68.5 115.0,70.1 115.7,73.3 116.5,76.5 116.8,78.1 117.6,81.3 118.2,84.1 118.7,86.2 119.5,89.4 120.0,91.4 120.7,94.2 121.5,97.4 121.9,99.0 122.7,102.2 123.5,105.5 123.9,107.1 124.7,110.3 125.3,112.5 125.9,115.1 126.8,118.3 127.2,119.9 128.0,123.1 128.8,125.9 129.3,128.0 130.2,131.2 130.6,132.8 131.5,136.0 132.2,138.9 132.8,140.8 133.7,144.0 134.1,145.6 135.0,148.8 135.7,151.4 136.4,153.7 137.3,156.9 137.8,158.5 138.7,161.7 139.2,163.6 140.1,166.5 141.0,169.5 141.5,171.3 142.5,174.6 143.0,176.2 144.0,179.4 144.5,181.1 145.4,184.2 146.3,186.8 146.9,189.0 147.9,192.2 148.5,193.8 149.5,197.1 150.0,198.7 151.0,201.9 151.5,203.5 152.6,206.7 153.2,208.8 154.2,211.5 155.0,214.1 155.7,216.3 156.8,219.3 157.4,221.2 158.4,224.4 159.0,226.0 160.1,229.2 160.6,230.8 161.8,234.0 162.3,235.6 163.4,238.8 164.0,240.4 165.1,243.7 165.7,245.3 166.9,248.5 167.4,250.1 168.6,253.3 169.2,254.9 170.4,258.1 170.9,259.7 172.1,262.9 172.7,264.5 173.9,267.8 174.5,269.4 175.7,272.6 176.4,274.2 177.6,277.4 178.2,279.0 179.4,282.2 180.0,283.8 181.3,286.9 181.9,288.7 183.0,291.4 183.8,293.5 184.7,295.8 185.7,298.3 186.5,300.2 187.7,303.1 188.3,304.7 189.6,307.9 190.3,309.5 191.6,312.8 192.3,314.4 193.5,317.4 194.3,319.2 195.3,321.6 196.3,324.0 197.0,325.8 198.3,328.8 199.0,330.4 200.4,333.6 201.0,335.3 202.2,338.1 203.1,340.1 204.0,342.1 205.2,344.9 205.9,346.5 207.3,349.7 208.0,351.3 209.2,354.1 210.2,356.1 211.0,358.0 212.3,361.0 213.0,362.6 214.5,365.8 215.2,367.4 216.3,369.7 217.4,372.2 218.2,373.8 219.6,377.0 220.4,378.6 221.5,381.1 222.6,383.5 223.4,385.1 224.9,388.3 225.6,389.9 226.8,392.3 227.9,394.7 228.7,396.3 230.2,399.5 231.0,401.1 232.0,403.3 233.3,406.0 234.0,407.6 235.5,410.6 236.4,412.4 237.2,414.2 238.7,417.2 239.5,418.8 240.7,421.3 241.9,423.6 242.7,425.2 244.2,428.4 245.1,430.1 246.0,431.9 247.5,434.9 248.3,436.5 249.5,438.9 250.7,441.3 251.5,442.9 253.0,445.8 254.0,447.7 254.8,449.4 256.4,452.6 257.2,454.2 258.2,456.1 259.7,459.0 260.6,460.6 261.8,462.9 263.0,465.4 263.9,467.0 265.3,469.7 266.4,471.9 267.2,473.5 268.8,476.4 269.8,478.3 270.6,479.9 272.2,483.0 273.1,484.7 274.0,486.3 275.7,489.5 276.6,491.1 277.5,492.9 279.1,496.0 280.0,497.6 281.0,499.5 282.6,502.4 283.4,504.0 284.5,506.0 286.0,508.8 286.9,510.4 288.0,512.5 289.5,515.2 290.4,516.8 291.5,518.9 293.0,521.7 293.9,523.3 295.0,525.4 296.5,528.1 297.4,529.7 298.5,531.8 300.0,534.5 300.9,536.1 302.0,538.2 303.5,541.0 304.4,542.6 305.5,544.5 307.1,547.4 308.0,549.0 309.0,550.9 310.6,553.8 311.5,555.4 312.5,557.2 314.2,560.2 315.1,561.8 316.0,563.5 317.7,566.7 318.6,568.3 319.5,569.9 321.3,573.0 322.2,574.7 323.1,576.3 324.7,579.3 324.9,579.5" stroke="#000" stroke-width="0.8"/><path d="M127.0,1.0 127.3,2.6 128.1,5.8 128.8,8.7 129.2,10.6 130.0,13.9 130.5,16.1 131.1,18.7 131.9,21.9 132.3,23.5 133.1,26.7 133.9,29.9 134.3,31.5 135.1,34.7 135.7,37.4 136.3,39.6 137.1,42.8 137.5,44.4 138.4,47.6 139.2,50.8 139.6,52.4 140.5,55.6 141.0,57.6 141.8,60.5 142.6,63.7 143.1,65.3 143.9,68.5 144.5,70.6 145.2,73.3 146.1,76.5 146.6,78.1 147.5,81.3 148.0,83.1 148.9,86.2 149.7,89.3 150.2,91.0 151.2,94.2 151.6,95.8 152.6,99.0 153.2,101.3 154.0,103.8 155.0,107.1 155.5,108.7 156.4,111.9 156.9,113.5 157.9,116.7 158.5,118.6 159.4,121.5 160.3,124.3 160.9,126.3 161.9,129.6 162.4,131.2 163.4,134.4 164.0,136.0 165.0,139.2 165.5,140.8 166.6,144.0 167.2,146.1 168.2,148.8 169.0,151.4 169.8,153.7 170.7,156.6 171.4,158.5 172.5,161.7 173.0,163.3 174.1,166.5 174.7,168.1 175.8,171.3 176.4,172.9 177.5,176.2 178.1,177.8 179.2,181.0 179.8,182.6 180.9,185.8 181.5,187.4 182.7,190.6 183.2,192.2 184.4,195.4 185.0,197.1 186.2,200.3 186.8,201.9 188.0,205.1 188.6,206.7 189.8,209.9 190.4,211.5 191.7,214.7 192.3,216.3 193.5,219.5 194.1,221.2 195.3,224.0 196.0,226.0 197.0,228.5 197.9,230.8 198.8,232.9 199.8,235.6 200.5,237.3 201.8,240.4 202.4,242.1 203.7,245.3 204.4,246.9 205.7,250.1 206.4,251.7 207.5,254.4 208.4,256.5 209.2,258.6 210.4,261.3 211.1,262.9 212.4,266.2 213.1,267.8 214.5,271.0 215.2,272.6 216.3,275.1 217.3,277.4 218.0,279.1 219.4,282.2 220.1,283.8 221.5,287.0 222.2,288.7 223.2,291.0 224.3,293.5 225.1,295.1 226.5,298.3 227.2,299.9 228.5,302.7 229.4,304.7 230.3,306.6 231.6,309.5 232.4,311.2 233.8,314.2 234.6,316.0 235.5,317.9 236.8,320.8 237.6,322.4 239.0,325.4 239.9,327.2 240.7,329.1 242.2,332.0 242.9,333.6 244.2,336.4 245.3,338.5 246.0,340.1 247.6,343.3 248.4,344.9 249.5,347.2 250.7,349.7 251.5,351.3 253.0,354.3 253.9,356.1 254.7,357.8 256.3,361.0 257.1,362.6 258.2,364.8 259.5,367.4 260.4,369.0 261.8,371.7 262.8,373.8 263.6,375.4 265.3,378.6 266.1,380.3 267.0,382.0 268.6,385.1 269.4,386.7 270.5,388.8 271.9,391.5 272.8,393.1 274.0,395.4 275.3,397.9 276.2,399.5 277.5,402.1 278.7,404.4 279.6,406.0 281.0,408.7 282.1,410.8 283.0,412.4 284.5,415.2 285.6,417.2 286.5,418.8 288.0,421.7 289.1,423.6 290.0,425.2 291.5,428.1 292.6,430.1 293.5,431.7 295.0,434.5 296.1,436.5 297.0,438.1 298.5,440.8 299.7,442.9 300.6,444.5 302.0,447.1 303.3,449.4 304.2,451.0 305.5,453.3 306.9,455.8 307.8,457.4 309.0,459.5 310.5,462.2 311.4,463.8 312.5,465.7 314.2,468.6 315.1,470.2 316.0,471.9 317.8,474.9 318.8,476.7 319.7,478.3 321.3,481.0 322.5,483.1 323.4,484.7 324.7,487.0 326.2,489.5 327.1,491.1 328.2,493.1 329.9,496.0 330.9,497.6 331.8,499.2 333.5,502.1 334.6,504.0 335.6,505.6 337.0,508.0 338.4,510.4 339.4,512.0 340.5,513.9 342.2,516.8 343.2,518.5 344.1,520.1 345.7,522.8 347.0,524.9 347.9,526.5 349.2,528.7 350.8,531.3 351.8,532.9 352.8,534.5 354.5,537.5 355.6,539.3 356.6,541.0 358.0,543.3 359.5,545.8 360.5,547.4 361.5,549.1 363.2,552.0 364.3,553.8 365.3,555.4 366.8,557.8 368.2,560.2 369.2,561.8 370.3,563.6 372.0,566.5 373.1,568.3 374.0,569.9 375.5,572.3 377.0,574.7 377.9,576.3 379.0,578.0 379.9,579.5" stroke="#000" stroke-width="0.8"/><path d="M152.2,1.0 153.1,4.2 153.5,5.8 154.4,9.0 155.0,11.2 155.7,13.9 156.6,17.1 157.1,18.7 158.0,21.9 158.5,23.7 159.4,26.7 160.3,29.9 160.7,31.5 161.7,34.7 162.1,36.4 163.1,39.6 163.8,41.9 164.5,44.4 165.5,47.6 165.9,49.2 166.9,52.4 167.4,54.0 168.4,57.2 169.0,59.3 169.9,62.1 170.7,65.0 171.3,66.9 172.4,70.1 172.9,71.7 173.9,74.9 174.4,76.5 175.4,79.7 176.0,81.5 177.0,84.6 177.8,86.9 178.6,89.4 179.5,92.2 180.2,94.2 181.2,97.4 181.8,99.0 182.9,102.2 183.4,103.8 184.5,107.1 185.0,108.7 186.2,111.9 186.7,113.5 187.8,116.7 188.4,118.3 189.5,121.5 190.1,123.1 191.2,126.3 191.8,128.0 193.0,131.2 193.5,132.8 194.7,136.0 195.3,137.6 196.5,140.8 197.1,142.4 198.3,145.6 198.9,147.2 200.1,150.5 200.7,152.1 201.9,155.3 202.5,156.9 203.7,160.1 204.3,161.7 205.6,164.9 206.2,166.5 207.4,169.7 208.1,171.3 209.3,174.3 210.0,176.2 211.0,178.8 211.9,181.0 212.8,183.1 213.8,185.8 214.5,187.5 215.8,190.6 216.4,192.2 217.8,195.4 218.4,197.1 219.7,200.3 220.4,201.9 221.5,204.5 222.4,206.7 223.2,208.6 224.5,211.5 225.2,213.1 226.5,216.3 227.2,217.9 228.5,220.9 229.3,222.8 230.3,224.9 231.4,227.6 232.1,229.2 233.5,232.4 234.2,234.0 235.5,236.9 236.4,238.8 237.2,240.8 238.5,243.7 239.3,245.3 240.7,248.5 241.5,250.1 242.5,252.3 243.7,254.9 244.4,256.5 245.9,259.7 246.7,261.3 247.8,263.7 248.9,266.2 249.7,267.8 251.2,271.0 251.9,272.6 253.0,274.8 254.2,277.4 255.0,279.0 256.5,282.1 257.3,283.8 258.2,285.7 259.7,288.7 260.5,290.3 261.8,292.9 262.8,295.1 263.6,296.7 265.2,299.9 266.0,301.5 267.0,303.5 268.4,306.3 269.2,307.9 270.5,310.4 271.7,312.8 272.5,314.4 274.0,317.3 275.0,319.2 275.8,320.8 277.4,324.0 278.3,325.6 279.2,327.5 280.8,330.4 281.6,332.0 282.8,334.2 284.1,336.9 285.0,338.5 286.3,340.9 287.5,343.3 288.4,344.9 289.7,347.5 291.0,349.7 291.8,351.3 293.2,354.0 294.4,356.1 295.3,357.8 296.8,360.4 297.9,362.6 298.8,364.2 300.3,366.8 301.4,369.0 302.3,370.6 303.8,373.2 305.0,375.4 305.9,377.0 307.2,379.5 308.6,381.9 309.5,383.5 310.7,385.7 312.2,388.3 313.1,389.9 314.2,391.9 315.8,394.7 316.8,396.3 317.8,398.1 319.5,401.1 320.4,402.8 321.4,404.4 323.0,407.2 324.1,409.2 325.1,410.8 326.5,413.2 327.9,415.6 328.8,417.2 330.0,419.2 331.6,422.0 332.6,423.6 333.5,425.2 335.3,428.2 336.4,430.1 337.3,431.7 338.8,434.1 340.2,436.5 341.2,438.1 342.2,439.9 344.0,442.8 345.0,444.5 346.0,446.1 347.5,448.7 348.9,451.0 349.9,452.6 351.0,454.4 352.8,457.3 353.8,459.0 354.7,460.6 356.3,463.1 357.7,465.4 358.7,467.0 359.7,468.8 361.5,471.6 362.6,473.5 363.6,475.1 365.0,477.3 366.6,479.9 367.6,481.5 368.6,483.1 370.3,485.7 371.6,487.9 372.6,489.5 373.8,491.3 375.5,494.1 376.7,496.0 377.7,497.6 379.0,499.7 380.7,502.4 381.7,504.0 382.7,505.6 384.2,508.0 385.8,510.4 386.8,512.0 387.8,513.6 389.5,516.3 390.9,518.5 391.9,520.1 393.0,521.7 394.7,524.5 396.0,526.5 397.1,528.1 398.2,529.9 400.0,532.7 401.2,534.5 402.2,536.1 403.5,538.1 405.3,540.8 406.4,542.6 407.4,544.2 408.8,546.2 410.5,548.9 411.6,550.6 412.6,552.2 414.0,554.3 415.7,557.0 416.8,558.6 417.9,560.2 419.2,562.4 421.0,565.1 422.0,566.7 423.1,568.3 424.5,570.4 426.2,573.1 427.3,574.7 428.3,576.3 429.7,578.4 430.5,579.5" stroke="#000" stroke-width="0.8"/><path d="M176.6,1.0 177.5,4.2 178.0,5.8 179.0,9.0 179.5,10.6 180.5,13.9 181.3,16.2 182.0,18.7 183.0,21.8 183.6,23.5 184.6,26.7 185.1,28.3 186.1,31.5 186.6,33.1 187.7,36.4 188.2,38.0 189.3,41.2 190.0,43.3 190.9,46.0 191.8,48.6 192.5,50.8 193.5,53.8 194.1,55.6 195.2,58.9 195.8,60.5 196.9,63.7 197.5,65.3 198.6,68.5 199.1,70.1 200.3,73.3 200.8,74.9 202.0,78.1 202.6,79.7 203.7,83.0 204.3,84.6 205.5,87.8 206.1,89.4 207.2,92.6 207.8,94.2 209.0,97.4 209.6,99.0 210.8,102.2 211.4,103.8 212.6,107.1 213.3,108.7 214.5,111.9 215.1,113.5 216.3,116.5 217.0,118.3 218.0,121.0 218.8,123.1 219.7,125.4 220.7,128.0 221.5,129.8 222.7,132.8 223.3,134.4 224.6,137.6 225.3,139.2 226.6,142.4 227.2,144.0 228.5,147.2 229.2,148.8 230.3,151.4 231.2,153.7 232.0,155.6 233.2,158.5 233.9,160.1 235.2,163.3 235.9,164.9 237.2,168.0 238.0,169.7 239.0,172.1 240.1,174.6 240.8,176.2 242.2,179.4 242.9,181.0 244.2,184.1 245.0,185.8 246.0,188.1 247.1,190.6 247.9,192.2 249.3,195.4 250.0,197.1 251.3,199.7 252.2,201.9 253.0,203.6 254.4,206.7 255.2,208.3 256.5,211.2 257.4,213.1 258.2,214.9 259.7,217.9 260.4,219.6 261.8,222.4 262.7,224.4 263.5,226.1 265.0,229.2 265.8,230.8 267.0,233.4 268.1,235.6 268.9,237.2 270.4,240.4 271.2,242.1 272.2,244.2 273.6,246.9 274.4,248.5 275.7,251.3 276.8,253.3 277.6,254.9 279.2,258.1 280.0,259.7 281.0,261.7 282.4,264.5 283.2,266.2 284.5,268.6 285.7,271.0 286.5,272.6 288.0,275.4 289.0,277.4 289.9,279.0 291.5,282.2 292.4,283.8 293.2,285.5 294.9,288.7 295.7,290.3 296.8,292.1 298.3,295.1 299.2,296.7 300.3,298.7 301.8,301.5 302.6,303.1 303.8,305.2 305.2,307.9 306.1,309.5 307.2,311.7 308.7,314.4 309.6,316.0 310.7,318.0 312.3,320.8 313.2,322.4 314.2,324.4 315.8,327.2 316.7,328.8 317.8,330.6 319.5,333.6 320.4,335.3 321.3,336.9 323.0,339.9 324.0,341.7 324.9,343.3 326.5,346.1 327.7,348.1 328.6,349.7 330.0,352.1 331.4,354.5 332.3,356.1 333.5,358.2 335.1,361.0 336.1,362.6 337.0,364.2 338.8,367.1 339.8,369.0 340.8,370.6 342.2,373.1 343.7,375.4 344.6,377.0 345.7,378.9 347.5,381.9 348.5,383.5 349.4,385.1 351.0,387.7 352.3,389.9 353.3,391.5 354.5,393.5 356.2,396.3 357.2,397.9 358.2,399.5 359.7,402.1 361.2,404.4 362.2,406.0 363.2,407.7 365.0,410.6 366.1,412.4 367.1,414.0 368.5,416.2 370.1,418.8 371.1,420.4 372.1,422.0 373.8,424.6 375.2,426.9 376.2,428.5 377.2,430.1 379.0,432.9 380.3,434.9 381.3,436.5 382.5,438.4 384.2,441.1 385.4,442.9 386.4,444.5 387.8,446.6 389.5,449.3 390.6,451.0 391.6,452.6 393.0,454.7 394.7,457.4 395.8,459.0 396.8,460.6 398.2,462.8 399.9,465.4 401.0,467.0 402.0,468.6 403.5,470.9 405.2,473.5 406.3,475.1 407.3,476.7 408.8,478.8 410.5,481.5 411.6,483.1 412.6,484.7 414.0,486.7 415.7,489.4 416.9,491.1 418.0,492.7 419.2,494.6 421.0,497.2 422.3,499.2 423.4,500.8 424.5,502.5 426.3,505.1 427.7,507.2 428.8,508.8 429.9,510.4 431.5,512.8 433.1,515.2 434.2,516.8 435.3,518.5 436.8,520.6 438.5,523.1 439.7,524.9 440.8,526.5 442.0,528.3 443.8,530.8 445.2,532.9 446.3,534.5 447.4,536.1 449.0,538.5 450.7,541.0 451.8,542.6 452.9,544.2 454.2,546.1 456.0,548.6 457.4,550.6 458.5,552.2 459.6,553.8 461.3,556.2 462.9,558.6 464.0,560.2 465.2,561.8 466.5,563.8 468.3,566.3 469.6,568.3 470.8,569.9 471.9,571.5 473.5,573.8 475.2,576.3 476.4,577.9 477.5,579.5" stroke="#000" stroke-width="0.8"/><path d="M200.0,1.0 200.6,2.6 201.7,5.8 202.2,7.5 203.3,10.6 204.0,12.7 205.0,15.5 205.7,17.8 206.6,20.3 207.5,22.8 208.3,25.1 209.2,27.8 210.0,29.9 211.0,32.7 211.7,34.7 212.8,37.6 213.5,39.6 214.5,42.4 215.2,44.4 216.3,47.2 217.0,49.2 218.0,51.9 218.8,54.0 219.7,56.6 220.6,58.9 221.5,61.3 222.4,63.7 223.2,65.9 224.2,68.5 225.0,70.5 226.1,73.3 226.8,75.0 228.0,78.1 228.6,79.7 229.9,83.0 230.5,84.6 231.8,87.8 232.4,89.4 233.7,92.6 234.4,94.2 235.5,97.0 236.3,99.0 237.2,101.3 238.3,103.8 239.0,105.6 240.3,108.7 240.9,110.3 242.3,113.5 243.0,115.1 244.2,118.2 245.0,119.9 246.0,122.3 247.0,124.7 247.8,126.4 249.1,129.6 249.8,131.2 251.2,134.4 251.9,136.0 253.0,138.5 254.0,140.8 254.7,142.5 256.2,145.6 256.9,147.2 258.2,150.3 259.0,152.1 260.0,154.2 261.2,156.9 261.9,158.5 263.4,161.7 264.1,163.3 265.3,165.7 266.4,168.1 267.1,169.7 268.6,172.9 269.4,174.6 270.5,177.0 271.6,179.4 272.4,181.0 273.9,184.2 274.7,185.8 275.7,188.0 277.0,190.6 277.8,192.2 279.2,195.3 280.1,197.1 281.0,198.9 282.5,201.9 283.3,203.5 284.5,206.0 285.6,208.3 286.4,209.9 288.0,213.0 288.9,214.7 289.7,216.5 291.3,219.6 292.1,221.2 293.2,223.4 294.6,226.0 295.4,227.6 296.8,230.3 297.9,232.4 298.7,234.0 300.3,237.0 301.2,238.8 302.0,240.4 303.7,243.7 304.6,245.3 305.5,247.0 307.1,250.1 308.0,251.7 309.0,253.6 310.5,256.5 311.4,258.1 312.5,260.1 314.0,262.9 314.9,264.5 316.0,266.6 317.5,269.4 318.4,271.0 319.5,273.0 321.1,275.8 321.9,277.4 323.0,279.3 324.6,282.2 325.5,283.8 326.5,285.6 328.2,288.7 329.1,290.3 330.0,291.9 331.8,294.9 332.8,296.7 333.7,298.3 335.3,301.0 336.5,303.1 337.4,304.7 338.8,307.1 340.2,309.5 341.1,311.2 342.2,313.1 343.9,316.0 344.9,317.6 345.8,319.2 347.5,322.1 348.6,324.0 349.6,325.6 351.0,328.0 352.5,330.4 353.4,332.0 354.5,333.8 356.3,336.8 357.3,338.5 358.2,340.1 359.7,342.6 361.2,344.9 362.1,346.5 363.2,348.3 365.0,351.2 366.1,352.9 367.1,354.5 368.5,356.9 370.0,359.4 371.0,361.0 372.0,362.6 373.8,365.3 375.0,367.4 376.0,369.0 377.2,370.9 379.0,373.7 380.1,375.4 381.1,377.0 382.5,379.3 384.2,381.9 385.2,383.5 386.2,385.1 387.8,387.5 389.3,389.9 390.3,391.5 391.3,393.1 393.0,395.7 394.5,397.9 395.5,399.5 396.5,401.1 398.2,403.8 399.7,406.0 400.7,407.6 401.8,409.2 403.5,411.8 404.9,414.0 406.0,415.6 407.1,417.2 408.8,419.8 410.3,422.0 411.3,423.6 412.4,425.2 414.0,427.7 415.6,430.1 416.7,431.7 417.8,433.3 419.2,435.5 421.0,438.1 422.1,439.7 423.2,441.3 424.5,443.3 426.3,445.9 427.5,447.7 428.6,449.4 429.7,451.0 431.5,453.6 433.0,455.8 434.1,457.4 435.2,459.0 436.8,461.2 438.5,463.8 439.6,465.4 440.7,467.0 442.0,468.8 443.8,471.4 445.2,473.5 446.3,475.1 447.4,476.7 449.0,478.9 450.8,481.4 451.9,483.1 453.1,484.7 454.2,486.4 456.0,488.9 457.6,491.1 458.7,492.7 459.8,494.3 461.3,496.3 463.0,498.8 464.4,500.8 465.5,502.4 466.7,504.0 468.3,506.2 470.0,508.6 471.3,510.4 472.4,512.0 473.6,513.6 475.2,516.0 477.0,518.4 478.2,520.1 479.3,521.7 480.5,523.3 482.2,525.7 484.0,528.1 485.1,529.7 486.3,531.3 487.5,533.0 489.2,535.4 491.0,537.7 492.1,539.3 493.3,541.0 494.5,542.6 496.3,545.0 498.0,547.4 499.2,549.0 500.3,550.6 501.5,552.2 503.3,554.6 505.0,557.0 506.2,558.6 507.4,560.2 508.6,561.8 510.2,564.1 512.0,566.5 513.3,568.3 514.5,569.9 515.7,571.5 517.2,573.6 519.0,575.9 520.5,577.9 521.7,579.5" stroke="#000" stroke-width="0.8"/><path d="M222.8,1.0 223.3,2.6 224.5,5.8 225.1,7.4 226.3,10.6 226.9,12.2 228.1,15.5 228.7,17.1 229.9,20.3 230.5,21.9 231.7,25.1 232.3,26.7 233.6,29.9 234.2,31.5 235.4,34.7 236.1,36.4 237.2,39.4 237.9,41.2 239.0,43.9 239.8,46.0 240.7,48.3 241.8,50.8 242.5,52.6 243.7,55.6 244.4,57.2 245.7,60.5 246.3,62.1 247.6,65.3 248.3,66.9 249.5,69.8 250.3,71.7 251.3,74.0 252.3,76.5 253.0,78.2 254.3,81.3 255.0,83.0 256.4,86.2 257.1,87.8 258.2,90.5 259.2,92.6 260.0,94.5 261.3,97.4 262.0,99.0 263.4,102.2 264.1,103.8 265.3,106.5 266.2,108.7 267.0,110.4 268.4,113.5 269.1,115.1 270.5,118.2 271.3,119.9 272.2,122.0 273.5,124.7 274.2,126.3 275.7,129.6 276.5,131.2 277.5,133.4 278.7,136.0 279.5,137.6 281.0,140.8 281.7,142.4 282.8,144.5 284.0,147.2 284.8,148.8 286.3,151.8 287.1,153.7 288.0,155.5 289.5,158.5 290.2,160.1 291.5,162.7 292.6,164.9 293.4,166.5 295.0,169.7 295.8,171.3 296.8,173.3 298.2,176.2 299.0,177.8 300.3,180.2 301.4,182.6 302.3,184.2 303.8,187.1 304.7,189.0 305.5,190.6 307.2,193.8 308.0,195.4 309.0,197.3 310.5,200.3 311.4,201.9 312.5,204.0 313.9,206.7 314.8,208.3 316.0,210.7 317.3,213.1 318.2,214.7 319.5,217.2 320.8,219.6 321.6,221.2 323.0,223.7 324.2,226.0 325.1,227.6 326.5,230.1 327.7,232.4 328.6,234.0 330.0,236.5 331.3,238.8 332.2,240.4 333.5,242.8 334.9,245.3 335.8,246.9 337.0,249.1 338.5,251.7 339.4,253.3 340.5,255.3 342.1,258.1 343.0,259.7 344.0,261.4 345.7,264.4 346.7,266.2 347.7,267.8 349.2,270.5 350.5,272.6 351.4,274.2 352.8,276.5 354.2,279.0 355.2,280.6 356.3,282.5 358.0,285.4 359.0,287.0 359.9,288.7 361.5,291.3 362.8,293.5 363.8,295.1 365.0,297.1 366.7,299.9 367.7,301.5 368.6,303.1 370.3,305.8 371.6,307.9 372.5,309.5 373.8,311.5 375.5,314.3 376.5,316.0 377.5,317.6 379.0,320.0 380.5,322.4 381.5,324.0 382.5,325.6 384.2,328.4 385.5,330.4 386.5,332.0 387.8,334.0 389.5,336.7 390.6,338.5 391.6,340.1 393.0,342.2 394.7,344.9 395.7,346.5 396.8,348.1 398.2,350.4 399.9,352.9 400.9,354.5 402.0,356.1 403.5,358.5 405.1,361.0 406.1,362.6 407.2,364.2 408.8,366.6 410.4,369.0 411.4,370.6 412.5,372.2 414.0,374.5 415.7,377.0 416.8,378.6 417.8,380.3 419.2,382.4 421.0,385.0 422.1,386.7 423.2,388.3 424.5,390.2 426.3,392.8 427.5,394.7 428.6,396.3 429.7,398.0 431.5,400.5 433.0,402.8 434.1,404.4 435.2,406.0 436.8,408.2 438.5,410.7 439.6,412.4 440.8,414.0 442.0,415.8 443.8,418.3 445.2,420.4 446.3,422.0 447.5,423.6 449.0,425.9 450.7,428.4 452.0,430.1 453.1,431.7 454.2,433.3 456.0,435.8 457.6,438.1 458.8,439.7 459.9,441.3 461.3,443.2 463.0,445.7 464.5,447.7 465.6,449.4 466.8,451.0 468.3,453.0 470.0,455.5 471.4,457.4 472.5,459.0 473.7,460.6 475.2,462.7 477.0,465.2 478.4,467.0 479.5,468.6 480.7,470.2 482.2,472.4 484.0,474.8 485.4,476.7 486.6,478.3 487.7,479.9 489.2,481.9 491.0,484.3 492.5,486.3 493.7,487.9 494.8,489.5 496.3,491.4 498.0,493.8 499.6,496.0 500.8,497.6 502.0,499.2 503.3,500.8 505.0,503.2 506.8,505.5 508.0,507.2 509.2,508.8 510.4,510.4 512.0,512.5 513.8,514.9 515.2,516.8 516.5,518.5 517.7,520.1 519.0,521.8 520.8,524.1 522.5,526.4 523.8,528.1 525.0,529.7 526.2,531.3 527.7,533.3 529.5,535.6 531.1,537.7 532.3,539.3 533.6,541.0 534.8,542.6 536.5,544.8 538.3,547.1 539.7,549.0 541.0,550.6 542.2,552.2 543.5,553.9 545.2,556.1 547.0,558.4 548.4,560.2 549.7,561.8 550.9,563.5 552.2,565.2 554.0,567.4 555.8,569.7 557.2,571.5 558.4,573.1 559.7,574.7 561.0,576.4 562.7,578.7 563.4,579.5" stroke="#000" stroke-width="0.8"/><path d="M244.8,1.0 246.0,4.1 246.7,5.8 247.8,8.6 248.6,10.6 249.5,13.0 250.5,15.5 251.3,17.4 252.4,20.3 253.1,21.9 254.4,25.1 255.0,26.7 256.4,29.9 257.0,31.5 258.2,34.5 259.0,36.4 260.0,38.7 261.1,41.2 261.8,42.8 263.1,46.0 263.8,47.6 265.1,50.8 265.8,52.4 267.0,55.1 267.9,57.2 268.8,59.2 270.0,62.1 270.7,63.7 272.1,66.9 272.8,68.5 274.0,71.1 275.0,73.3 275.7,75.0 277.1,78.1 277.9,79.7 279.2,82.8 280.0,84.6 281.0,86.7 282.2,89.4 283.0,91.0 284.5,94.2 285.2,95.8 286.3,98.0 287.5,100.6 288.2,102.2 289.7,105.5 290.5,107.1 291.5,109.2 292.8,111.9 293.5,113.5 295.0,116.5 295.9,118.3 296.8,120.1 298.2,123.1 299.0,124.7 300.3,127.3 301.3,129.6 302.1,131.2 303.7,134.4 304.5,136.0 305.5,137.9 306.9,140.8 307.7,142.4 309.0,144.9 310.2,147.2 311.0,148.8 312.5,151.8 313.4,153.7 314.3,155.3 315.9,158.5 316.7,160.1 317.8,162.0 319.3,164.9 320.1,166.5 321.3,168.7 322.6,171.3 323.5,172.9 324.7,175.4 326.0,177.8 326.9,179.4 328.2,181.9 329.5,184.2 330.3,185.8 331.8,188.4 332.9,190.6 333.8,192.2 335.3,194.9 336.4,197.1 337.3,198.7 338.8,201.2 340.0,203.5 340.9,205.1 342.2,207.5 343.6,209.9 344.5,211.5 345.7,213.8 347.2,216.3 348.1,217.9 349.2,220.0 350.8,222.8 351.7,224.4 352.8,226.1 354.5,229.2 355.4,230.8 356.4,232.4 358.0,235.2 359.2,237.2 360.1,238.8 361.5,241.2 362.9,243.7 363.9,245.3 365.0,247.2 366.7,250.1 367.7,251.7 368.6,253.3 370.3,256.0 371.5,258.1 372.5,259.7 373.8,261.8 375.4,264.5 376.4,266.2 377.3,267.8 379.0,270.5 380.3,272.6 381.3,274.2 382.5,276.2 384.2,279.0 385.2,280.6 386.2,282.2 387.8,284.7 389.2,287.0 390.2,288.7 391.3,290.3 393.0,293.1 394.3,295.1 395.3,296.7 396.5,298.6 398.2,301.4 399.4,303.1 400.4,304.7 401.8,306.9 403.5,309.5 404.5,311.2 405.5,312.8 407.0,315.0 408.7,317.6 409.7,319.2 410.7,320.8 412.2,323.1 413.9,325.6 415.0,327.2 416.0,328.8 417.5,331.1 419.2,333.6 420.3,335.3 421.3,336.9 422.8,339.0 424.5,341.6 425.6,343.3 426.7,344.9 428.0,346.9 429.7,349.5 431.0,351.3 432.1,352.9 433.2,354.6 435.0,357.2 436.5,359.4 437.6,361.0 438.7,362.6 440.3,364.9 442.0,367.4 443.1,369.0 444.2,370.6 445.5,372.5 447.2,375.0 448.6,377.0 449.8,378.6 450.9,380.3 452.5,382.6 454.2,385.1 455.4,386.7 456.5,388.3 457.8,390.0 459.5,392.5 461.1,394.7 462.2,396.3 463.3,397.9 464.7,399.9 466.5,402.4 467.9,404.4 469.1,406.0 470.2,407.6 471.8,409.7 473.5,412.1 474.9,414.0 476.0,415.6 477.2,417.2 478.8,419.4 480.5,421.8 481.9,423.6 483.0,425.2 484.2,426.9 485.8,429.0 487.5,431.4 488.9,433.3 490.1,434.9 491.3,436.5 492.7,438.5 494.5,440.8 496.0,442.9 497.2,444.5 498.4,446.1 499.7,447.9 501.5,450.2 503.2,452.6 504.4,454.2 505.7,455.8 506.9,457.4 508.5,459.6 510.2,461.9 511.7,463.8 512.9,465.4 514.1,467.0 515.5,468.8 517.2,471.1 519.0,473.4 520.3,475.1 521.5,476.7 522.7,478.3 524.2,480.3 526.0,482.6 527.6,484.7 528.9,486.3 530.1,487.9 531.4,489.5 533.0,491.6 534.7,493.9 536.3,496.0 537.6,497.6 538.8,499.2 540.1,500.8 541.8,502.9 543.5,505.1 545.1,507.2 546.4,508.8 547.6,510.4 548.9,512.0 550.5,514.1 552.2,516.3 554.0,518.5 555.2,520.1 556.5,521.7 557.8,523.3 559.2,525.1 561.0,527.3 562.7,529.5 564.2,531.3 565.4,532.9 566.7,534.5 568.0,536.1 569.7,538.3 571.5,540.5 573.1,542.6 574.4,544.2 575.7,545.8 577.0,547.4 578.5,549.2 580.2,551.4 582.0,553.6 583.5,555.4 584.8,557.0 586.1,558.6 587.4,560.2 589.0,562.2 590.8,564.3 592.5,566.5 593.9,568.3 595.3,569.9 596.6,571.5 597.9,573.1 599.5,575.1 601.3,577.2 603.0,579.3 603.1,579.5" stroke="#000" stroke-width="0.8"/><path d="M266.1,1.0 267.0,3.1 268.2,5.8 268.8,7.4 270.2,10.6 270.9,12.2 272.2,15.5 272.9,17.1 274.0,19.6 275.0,21.9 275.7,23.7 277.1,26.7 277.8,28.3 279.2,31.5 279.9,33.1 281.0,35.7 282.0,38.0 282.8,39.6 284.2,42.8 284.9,44.4 286.3,47.4 287.1,49.2 288.0,51.3 289.3,54.0 290.0,55.6 291.5,58.9 292.2,60.5 293.2,62.7 294.4,65.3 295.2,66.9 296.7,70.1 297.5,71.7 298.5,73.9 299.7,76.5 300.5,78.1 302.0,81.3 302.8,83.0 303.8,84.9 305.1,87.8 305.9,89.4 307.2,92.1 308.3,94.2 309.0,95.8 310.6,99.0 311.4,100.6 312.5,102.8 313.8,105.5 314.6,107.1 316.0,109.8 317.0,111.9 317.8,113.5 319.5,116.7 320.3,118.3 321.3,120.2 322.8,123.1 323.6,124.7 324.7,127.0 326.1,129.6 326.9,131.2 328.2,133.7 329.4,136.0 330.3,137.6 331.8,140.4 332.8,142.4 333.7,144.0 335.3,147.0 336.2,148.8 337.1,150.5 338.8,153.5 339.7,155.3 340.6,156.9 342.2,160.0 343.2,161.7 344.1,163.3 345.7,166.4 346.7,168.1 347.6,169.7 349.2,172.7 350.3,174.6 351.2,176.2 352.8,179.0 353.9,181.0 354.8,182.6 356.3,185.2 357.5,187.4 358.4,189.0 359.7,191.4 361.2,193.8 362.1,195.4 363.2,197.5 364.9,200.3 365.8,201.9 366.8,203.5 368.5,206.5 369.5,208.3 370.5,209.9 372.0,212.5 373.3,214.7 374.3,216.3 375.5,218.4 377.1,221.2 378.1,222.8 379.0,224.4 380.7,227.2 381.9,229.2 382.9,230.8 384.2,233.0 385.8,235.6 386.8,237.2 387.8,238.8 389.5,241.6 390.7,243.7 391.7,245.3 393.0,247.3 394.7,250.1 395.7,251.7 396.7,253.3 398.2,255.7 399.7,258.1 400.7,259.7 401.8,261.3 403.5,264.1 404.8,266.2 405.8,267.8 407.0,269.6 408.8,272.3 409.9,274.2 411.0,275.8 412.2,277.8 414.0,280.5 415.1,282.2 416.1,283.8 417.5,285.9 419.2,288.6 420.3,290.3 421.4,291.9 422.8,293.9 424.5,296.6 425.6,298.3 426.7,299.9 428.0,301.9 429.7,304.5 431.0,306.3 432.0,307.9 433.2,309.7 435.0,312.4 436.4,314.4 437.4,316.0 438.5,317.6 440.3,320.1 441.8,322.4 442.9,324.0 444.0,325.6 445.5,327.8 447.2,330.4 448.4,332.0 449.5,333.6 450.7,335.4 452.5,338.0 454.0,340.1 455.1,341.7 456.2,343.3 457.8,345.5 459.5,348.0 460.7,349.7 461.8,351.3 463.0,353.0 464.7,355.5 466.4,357.8 467.5,359.4 468.7,361.0 470.0,362.9 471.8,365.3 473.2,367.4 474.4,369.0 475.5,370.6 477.0,372.6 478.8,375.1 480.2,377.0 481.4,378.6 482.5,380.3 484.0,382.3 485.8,384.7 487.2,386.7 488.4,388.3 489.6,389.9 491.0,391.9 492.7,394.2 494.3,396.3 495.5,397.9 496.7,399.5 498.0,401.3 499.7,403.7 501.4,406.0 502.6,407.6 503.8,409.2 505.1,410.8 506.8,413.0 508.5,415.4 509.9,417.2 511.1,418.8 512.3,420.4 513.8,422.3 515.5,424.6 517.2,426.9 518.4,428.5 519.6,430.1 520.9,431.7 522.5,433.8 524.2,436.1 525.8,438.1 527.0,439.7 528.3,441.3 529.5,442.9 531.3,445.2 533.0,447.4 534.5,449.4 535.7,451.0 537.0,452.6 538.3,454.2 540.0,456.4 541.8,458.6 543.3,460.6 544.5,462.2 545.8,463.8 547.1,465.4 548.8,467.5 550.5,469.8 552.2,471.9 553.4,473.5 554.7,475.1 556.0,476.7 557.5,478.6 559.2,480.8 561.0,483.0 562.4,484.7 563.7,486.3 565.0,487.9 566.3,489.5 568.0,491.7 569.7,493.9 571.4,496.0 572.7,497.6 574.0,499.2 575.4,500.8 576.8,502.5 578.5,504.7 580.2,506.8 581.9,508.8 583.2,510.4 584.5,512.0 585.8,513.6 587.2,515.4 589.0,517.5 590.8,519.6 592.4,521.7 593.8,523.3 595.1,524.9 596.4,526.5 597.7,528.1 599.5,530.2 601.3,532.3 603.0,534.4 604.4,536.1 605.8,537.7 607.1,539.3 608.4,541.0 610.0,542.8 611.8,544.9 613.5,547.0 615.2,549.0 616.5,550.6 617.9,552.2 619.2,553.8 620.6,555.4 622.2,557.4 624.0,559.5 625.8,561.5 627.4,563.5 628.7,565.1 630.1,566.7 631.5,568.3 632.8,569.9 634.5,571.8 636.3,573.9 638.0,575.9 639.7,577.9 641.1,579.5" stroke="#000" stroke-width="0.8"/><path d="M286.9,1.0 288.0,3.4 289.1,5.8 289.8,7.4 291.2,10.6 291.9,12.2 293.2,15.2 294.1,17.1 295.0,19.1 296.3,21.9 297.0,23.5 298.5,26.7 299.2,28.3 300.3,30.6 301.4,33.1 302.2,34.7 303.7,38.0 304.4,39.6 305.5,41.8 306.7,44.4 307.5,46.0 309.0,49.2 309.8,50.8 310.7,52.8 312.1,55.6 312.9,57.2 314.2,60.1 315.2,62.1 316.0,63.7 317.6,66.9 318.4,68.5 319.5,70.8 320.7,73.3 321.5,74.9 323.0,77.8 324.0,79.7 324.8,81.3 326.4,84.6 327.2,86.2 328.2,88.2 329.7,91.0 330.5,92.6 331.8,95.1 333.0,97.4 333.8,99.0 335.3,101.8 336.3,103.8 337.1,105.5 338.8,108.5 339.7,110.3 340.5,111.9 342.2,115.1 343.1,116.7 344.0,118.4 345.7,121.5 346.5,123.1 347.5,125.0 349.1,128.0 350.0,129.6 351.0,131.4 352.6,134.4 353.5,136.0 354.5,137.8 356.2,140.8 357.1,142.4 358.0,144.1 359.7,147.2 360.6,148.8 361.5,150.5 363.2,153.5 364.3,155.3 365.2,156.9 366.8,159.7 367.9,161.7 368.8,163.3 370.3,165.8 371.6,168.1 372.5,169.7 373.8,171.9 375.3,174.6 376.2,176.2 377.2,177.9 379.0,180.9 380.0,182.6 381.0,184.2 382.5,186.8 383.8,189.0 384.8,190.6 386.0,192.7 387.7,195.4 388.6,197.1 389.6,198.7 391.3,201.4 392.5,203.5 393.5,205.1 394.7,207.2 396.4,209.9 397.4,211.5 398.4,213.1 400.0,215.7 401.4,217.9 402.4,219.6 403.5,221.4 405.3,224.2 406.4,226.0 407.4,227.6 408.8,229.8 410.4,232.4 411.4,234.0 412.4,235.6 414.0,238.1 415.5,240.4 416.5,242.1 417.6,243.7 419.2,246.3 420.7,248.5 421.7,250.1 422.8,251.7 424.5,254.4 425.9,256.5 426.9,258.1 428.0,259.8 429.7,262.4 431.1,264.5 432.2,266.2 433.3,267.8 435.0,270.4 436.5,272.6 437.5,274.2 438.6,275.8 440.3,278.3 441.8,280.6 442.9,282.2 444.0,283.8 445.5,286.1 447.2,288.6 448.3,290.3 449.4,291.9 450.7,293.8 452.5,296.3 453.8,298.3 454.9,299.9 456.1,301.5 457.8,304.0 459.4,306.3 460.5,307.9 461.6,309.5 463.0,311.5 464.7,314.0 466.1,316.0 467.2,317.6 468.4,319.2 470.0,321.5 471.8,324.0 472.9,325.6 474.1,327.2 475.2,328.9 477.0,331.3 478.6,333.6 479.8,335.3 481.0,336.9 482.2,338.7 484.0,341.1 485.6,343.3 486.8,344.9 487.9,346.5 489.2,348.3 491.0,350.7 492.6,352.9 493.8,354.5 495.0,356.1 496.3,357.9 498.0,360.3 499.7,362.6 500.9,364.2 502.1,365.8 503.3,367.4 505.0,369.7 506.8,372.1 508.1,373.8 509.3,375.4 510.5,377.0 512.0,379.1 513.8,381.4 515.3,383.5 516.5,385.1 517.8,386.7 519.0,388.3 520.8,390.6 522.5,392.9 523.9,394.7 525.1,396.3 526.3,397.9 527.7,399.8 529.5,402.0 531.3,404.3 532.5,406.0 533.8,407.6 535.0,409.2 536.5,411.1 538.3,413.3 540.0,415.6 541.3,417.2 542.5,418.8 543.8,420.4 545.2,422.3 547.0,424.5 548.8,426.7 550.1,428.5 551.4,430.1 552.7,431.7 554.0,433.4 555.8,435.6 557.5,437.8 559.1,439.7 560.3,441.3 561.6,442.9 562.9,444.5 564.5,446.5 566.3,448.7 568.0,450.9 569.4,452.6 570.7,454.2 572.0,455.8 573.3,457.4 575.0,459.5 576.8,461.6 578.5,463.8 579.8,465.4 581.1,467.0 582.5,468.6 583.8,470.2 585.5,472.3 587.2,474.5 589.0,476.6 590.4,478.3 591.7,479.9 593.1,481.5 594.4,483.1 596.0,485.0 597.7,487.1 599.5,489.2 601.1,491.1 602.4,492.7 603.8,494.3 605.1,496.0 606.5,497.6 608.3,499.7 610.0,501.8 611.8,503.8 613.2,505.6 614.6,507.2 615.9,508.8 617.3,510.4 618.8,512.1 620.5,514.2 622.2,516.2 624.0,518.3 625.5,520.1 626.9,521.7 628.3,523.3 629.6,524.9 631.0,526.5 632.7,528.5 634.5,530.5 636.3,532.6 638.0,534.5 639.3,536.1 640.7,537.7 642.1,539.3 643.5,541.0 645.0,542.7 646.8,544.7 648.5,546.7 650.2,548.7 651.9,550.6 653.3,552.2 654.7,553.8 656.1,555.4 657.6,557.0 659.0,558.7 660.8,560.7 662.5,562.6 664.2,564.6 666.0,566.6 667.5,568.3 668.9,569.9 670.3,571.5 671.7,573.1 673.0,574.5" stroke="#000" stroke-width="0.8"/><path d="M307.2,1.0 307.9,2.6 309.0,4.9 310.2,7.4 310.9,9.0 312.4,12.2 313.2,13.9 314.2,16.1 315.5,18.7 316.2,20.3 317.8,23.5 318.5,25.1 319.5,27.1 320.9,29.9 321.6,31.5 323.0,34.3 324.0,36.4 324.8,38.0 326.4,41.2 327.2,42.8 328.2,45.0 329.5,47.6 330.3,49.2 331.8,52.0 332.8,54.0 333.6,55.6 335.2,58.9 336.0,60.5 337.0,62.4 338.5,65.3 339.3,66.9 340.5,69.2 341.8,71.7 342.6,73.3 344.0,75.9 345.2,78.1 346.0,79.7 347.5,82.6 348.5,84.6 349.4,86.2 351.0,89.2 352.0,91.0 352.8,92.6 354.5,95.7 355.4,97.4 356.3,99.0 358.0,102.2 358.9,103.8 359.8,105.5 361.5,108.6 362.4,110.3 363.3,111.9 365.0,115.0 366.0,116.7 366.9,118.3 368.5,121.2 369.6,123.1 370.5,124.7 372.0,127.5 373.2,129.6 374.1,131.2 375.5,133.6 376.9,136.0 377.8,137.6 379.0,139.7 380.5,142.4 381.5,144.0 382.5,145.8 384.2,148.8 385.2,150.5 386.2,152.1 387.8,154.8 389.0,156.9 389.9,158.5 391.3,160.7 392.8,163.3 393.8,164.9 394.7,166.6 396.5,169.5 397.6,171.3 398.6,172.9 400.0,175.3 401.5,177.8 402.5,179.4 403.5,181.0 405.3,183.9 406.4,185.8 407.4,187.4 408.8,189.6 410.4,192.2 411.4,193.8 412.4,195.4 414.0,198.0 415.4,200.3 416.4,201.9 417.5,203.6 419.2,206.3 420.5,208.3 421.5,209.9 422.8,211.9 424.5,214.6 425.6,216.3 426.6,217.9 428.0,220.0 429.7,222.8 430.8,224.4 431.8,226.0 433.2,228.1 435.0,230.8 436.0,232.4 437.1,234.0 438.5,236.2 440.3,238.8 441.3,240.4 442.4,242.1 443.8,244.1 445.5,246.7 446.7,248.5 447.8,250.1 449.0,251.9 450.7,254.5 452.1,256.5 453.2,258.1 454.3,259.7 456.0,262.3 457.5,264.5 458.6,266.2 459.7,267.8 461.3,270.0 463.0,272.5 464.2,274.2 465.3,275.8 466.5,277.6 468.3,280.1 469.7,282.2 470.9,283.8 472.0,285.4 473.5,287.6 475.2,290.1 476.5,291.9 477.6,293.5 478.8,295.1 480.5,297.5 482.2,299.9 483.4,301.5 484.5,303.1 485.8,304.9 487.5,307.3 489.1,309.5 490.3,311.2 491.4,312.8 492.7,314.6 494.5,317.0 496.1,319.2 497.3,320.8 498.5,322.4 499.7,324.2 501.5,326.5 503.2,328.8 504.4,330.4 505.6,332.0 506.8,333.7 508.5,336.0 510.2,338.4 511.5,340.1 512.7,341.7 513.9,343.3 515.5,345.4 517.2,347.7 518.8,349.7 520.0,351.3 521.2,352.9 522.5,354.7 524.2,357.0 526.0,359.3 527.3,361.0 528.5,362.6 529.8,364.2 531.3,366.1 533.0,368.4 534.7,370.6 535.9,372.2 537.2,373.8 538.4,375.4 540.0,377.5 541.8,379.7 543.4,381.9 544.7,383.5 545.9,385.1 547.2,386.7 548.8,388.7 550.5,390.9 552.2,393.1 553.5,394.7 554.8,396.3 556.1,397.9 557.5,399.7 559.2,401.9 561.0,404.1 562.5,406.0 563.7,407.6 565.0,409.2 566.3,410.8 568.0,412.9 569.7,415.0 571.5,417.2 572.8,418.8 574.1,420.4 575.4,422.0 576.8,423.7 578.5,425.8 580.2,428.0 582.0,430.1 583.3,431.7 584.6,433.3 585.9,434.9 587.2,436.5 589.0,438.6 590.8,440.8 592.5,442.9 593.9,444.5 595.2,446.1 596.5,447.7 597.9,449.4 599.5,451.3 601.3,453.4 603.0,455.5 604.6,457.4 605.9,459.0 607.3,460.6 608.6,462.2 610.0,463.8 611.8,465.9 613.5,468.0 615.2,470.0 616.8,471.9 618.2,473.5 619.5,475.1 620.9,476.7 622.3,478.3 624.0,480.3 625.8,482.3 627.5,484.4 629.2,486.3 630.6,487.9 631.9,489.5 633.3,491.1 634.7,492.7 636.3,494.5 638.0,496.5 639.7,498.5 641.5,500.5 643.1,502.4 644.5,504.0 645.9,505.6 647.3,507.2 648.7,508.8 650.2,510.6 652.0,512.5 653.8,514.5 655.5,516.5 657.2,518.5 658.6,520.1 660.1,521.7 661.5,523.3 662.9,524.9 664.3,526.5 666.0,528.4 667.7,530.3 669.5,532.3 671.3,534.2 672.9,536.1 673.0,536.2" stroke="#000" stroke-width="0.8"/><path d="M326.9,1.0 328.2,3.7 329.3,5.8 330.0,7.4 331.6,10.6 332.4,12.2 333.5,14.5 334.8,17.1 335.6,18.7 337.0,21.5 338.0,23.5 338.8,25.1 340.4,28.3 341.2,29.9 342.2,32.0 343.7,34.7 344.5,36.4 345.7,38.8 347.0,41.2 347.8,42.8 349.2,45.6 350.3,47.6 351.1,49.2 352.8,52.3 353.6,54.0 354.5,55.7 356.2,58.9 357.0,60.5 358.0,62.3 359.6,65.3 360.5,66.9 361.5,68.8 363.1,71.7 363.9,73.3 365.0,75.3 366.6,78.1 367.4,79.7 368.5,81.7 370.1,84.6 371.0,86.2 372.0,88.0 373.6,91.0 374.5,92.6 375.5,94.3 377.2,97.4 378.1,99.0 379.0,100.6 380.7,103.7 381.8,105.5 382.7,107.1 384.2,109.8 385.4,111.9 386.4,113.5 387.8,115.9 389.1,118.3 390.1,119.9 391.3,121.9 392.9,124.7 393.8,126.3 394.8,128.0 396.5,130.9 397.6,132.8 398.6,134.4 400.0,136.8 401.4,139.2 402.4,140.8 403.5,142.6 405.3,145.6 406.3,147.2 407.2,148.8 408.8,151.3 410.2,153.7 411.1,155.3 412.2,157.1 414.0,159.9 415.1,161.7 416.1,163.3 417.5,165.6 419.1,168.1 420.1,169.7 421.1,171.3 422.8,174.0 424.1,176.2 425.1,177.8 426.3,179.6 428.0,182.3 429.2,184.2 430.2,185.8 431.5,187.8 433.2,190.6 434.3,192.2 435.4,193.8 436.8,196.0 438.5,198.7 439.5,200.3 440.6,201.9 442.0,204.1 443.7,206.7 444.8,208.3 445.8,209.9 447.2,212.1 449.0,214.7 450.1,216.3 451.1,217.9 452.5,220.0 454.2,222.6 455.4,224.4 456.5,226.0 457.8,227.8 459.5,230.4 460.9,232.4 461.9,234.0 463.0,235.6 464.7,238.1 466.3,240.4 467.4,242.1 468.5,243.7 470.0,245.8 471.8,248.3 473.0,250.1 474.1,251.7 475.2,253.4 477.0,255.9 478.6,258.1 479.7,259.7 480.8,261.3 482.2,263.4 484.0,265.8 485.4,267.8 486.5,269.4 487.6,271.0 489.2,273.2 491.0,275.7 492.2,277.4 493.4,279.0 494.5,280.6 496.3,283.0 498.0,285.4 499.2,287.0 500.4,288.7 501.5,290.3 503.3,292.6 505.0,295.0 506.2,296.7 507.4,298.3 508.6,299.9 510.2,302.2 512.0,304.5 513.3,306.3 514.5,307.9 515.7,309.5 517.2,311.6 519.0,313.9 520.5,316.0 521.7,317.6 522.9,319.2 524.2,320.9 526.0,323.3 527.7,325.6 529.0,327.2 530.2,328.8 531.4,330.4 533.0,332.5 534.7,334.8 536.4,336.9 537.6,338.5 538.8,340.1 540.1,341.7 541.8,343.9 543.5,346.1 545.0,348.1 546.3,349.7 547.5,351.3 548.8,352.9 550.5,355.1 552.2,357.3 553.8,359.4 555.1,361.0 556.4,362.6 557.6,364.2 559.2,366.2 561.0,368.4 562.7,370.6 564.0,372.2 565.3,373.8 566.6,375.4 568.0,377.2 569.7,379.4 571.5,381.6 573.0,383.5 574.3,385.1 575.6,386.7 576.9,388.3 578.5,390.2 580.2,392.4 582.0,394.5 583.4,396.3 584.8,397.9 586.1,399.5 587.4,401.1 589.0,403.1 590.8,405.2 592.5,407.3 594.0,409.2 595.3,410.8 596.7,412.4 598.0,414.0 599.5,415.8 601.3,417.9 603.0,420.0 604.7,422.0 606.1,423.6 607.4,425.2 608.8,426.9 610.1,428.5 611.8,430.4 613.5,432.5 615.2,434.5 616.9,436.5 618.3,438.1 619.6,439.7 621.0,441.3 622.4,442.9 624.0,444.8 625.8,446.9 627.5,448.9 629.2,450.9 630.6,452.6 632.0,454.2 633.4,455.8 634.8,457.4 636.3,459.1 638.0,461.1 639.8,463.1 641.5,465.1 643.2,467.0 644.6,468.6 646.0,470.2 647.4,471.9 648.8,473.5 650.2,475.1 652.0,477.1 653.8,479.1 655.5,481.0 657.2,483.0 658.7,484.7 660.2,486.3 661.6,487.9 663.0,489.5 664.5,491.1 666.0,492.9 667.7,494.8 669.5,496.8 671.3,498.7 673.0,500.7" stroke="#000" stroke-width="0.8"/><path d="M346.2,1.0 347.5,3.6 348.6,5.8 349.5,7.4 351.0,10.4 351.9,12.2 352.8,13.9 354.4,17.1 355.2,18.7 356.3,20.7 357.7,23.5 358.6,25.1 359.7,27.4 361.1,29.9 361.9,31.5 363.2,34.0 364.5,36.4 365.3,38.0 366.8,40.6 367.9,42.8 368.8,44.4 370.3,47.1 371.4,49.2 372.3,50.8 373.8,53.6 374.9,55.6 375.8,57.2 377.2,60.0 378.4,62.1 379.3,63.7 380.7,66.3 382.0,68.5 382.9,70.1 384.2,72.5 385.6,74.9 386.5,76.5 387.8,78.7 389.2,81.3 390.1,83.0 391.3,84.9 392.9,87.8 393.8,89.4 394.8,91.0 396.5,94.0 397.5,95.8 398.5,97.4 400.0,100.0 401.3,102.2 402.2,103.8 403.5,106.0 405.1,108.7 406.0,110.3 407.0,111.9 408.8,114.8 409.9,116.7 410.8,118.3 412.2,120.7 413.7,123.1 414.7,124.7 415.7,126.5 417.5,129.3 418.6,131.2 419.6,132.8 421.0,135.1 422.6,137.6 423.6,139.2 424.5,140.8 426.3,143.6 427.5,145.6 428.5,147.2 429.7,149.2 431.5,151.9 432.6,153.7 433.6,155.3 435.0,157.5 436.7,160.1 437.7,161.7 438.7,163.3 440.2,165.7 441.8,168.1 442.8,169.7 443.9,171.3 445.5,173.9 447.0,176.2 448.0,177.8 449.1,179.4 450.7,181.9 452.2,184.2 453.3,185.8 454.4,187.4 456.0,189.9 457.6,192.2 458.6,193.8 459.7,195.4 461.3,197.8 462.9,200.3 464.0,201.9 465.1,203.5 466.5,205.6 468.3,208.2 469.4,209.9 470.5,211.5 471.8,213.3 473.5,215.9 474.9,217.9 476.0,219.6 477.1,221.2 478.8,223.5 480.5,226.0 481.6,227.6 482.7,229.2 484.0,231.1 485.8,233.6 487.2,235.6 488.3,237.2 489.5,238.8 491.0,241.0 492.7,243.5 494.0,245.3 495.2,246.9 496.3,248.5 498.0,250.9 499.7,253.3 500.9,254.9 502.1,256.5 503.3,258.2 505.0,260.6 506.7,262.9 507.9,264.5 509.0,266.2 510.2,267.8 512.0,270.2 513.7,272.6 514.9,274.2 516.1,275.8 517.3,277.4 519.0,279.7 520.8,282.1 522.1,283.8 523.3,285.4 524.5,287.0 526.0,289.1 527.7,291.4 529.3,293.5 530.5,295.1 531.7,296.7 533.0,298.4 534.7,300.7 536.5,303.0 537.8,304.7 539.0,306.3 540.2,307.9 541.8,309.9 543.5,312.2 545.2,314.4 546.4,316.0 547.7,317.6 548.9,319.2 550.5,321.2 552.2,323.5 553.9,325.6 555.2,327.2 556.4,328.8 557.7,330.4 559.2,332.4 561.0,334.7 562.7,336.9 564.0,338.5 565.3,340.1 566.5,341.7 568.0,343.5 569.7,345.7 571.5,347.9 573.0,349.7 574.2,351.3 575.5,352.9 576.8,354.5 578.5,356.6 580.2,358.8 582.0,360.9 583.3,362.6 584.6,364.2 585.9,365.8 587.2,367.4 589.0,369.6 590.8,371.7 592.5,373.8 593.8,375.4 595.1,377.0 596.5,378.6 597.8,380.3 599.5,382.3 601.3,384.4 603.0,386.5 604.5,388.3 605.8,389.9 607.1,391.5 608.5,393.1 610.0,394.9 611.8,397.0 613.5,399.1 615.2,401.1 616.6,402.8 618.0,404.4 619.3,406.0 620.7,407.6 622.2,409.4 624.0,411.5 625.8,413.5 627.5,415.6 628.9,417.2 630.3,418.8 631.7,420.4 633.1,422.0 634.5,423.7 636.3,425.7 638.0,427.8 639.7,429.8 641.4,431.7 642.8,433.3 644.2,434.9 645.6,436.5 647.0,438.1 648.5,439.8 650.2,441.8 652.0,443.8 653.8,445.8 655.5,447.7 656.9,449.4 658.3,451.0 659.7,452.6 661.2,454.2 662.6,455.8 664.2,457.6 666.0,459.6 667.7,461.6 669.5,463.5 671.2,465.4 672.7,467.0 673.0,467.4" stroke="#000" stroke-width="0.8"/><path d="M365.1,1.0 366.7,4.2 367.6,5.8 368.5,7.5 370.1,10.6 371.0,12.2 372.0,14.2 373.6,17.1 374.4,18.7 375.5,20.7 377.0,23.5 377.9,25.1 379.0,27.2 380.5,29.9 381.4,31.5 382.5,33.6 384.0,36.4 384.9,38.0 386.0,40.0 387.6,42.8 388.5,44.4 389.5,46.2 391.2,49.2 392.1,50.8 393.0,52.5 394.7,55.6 395.7,57.2 396.6,58.9 398.2,61.7 399.4,63.7 400.3,65.3 401.8,67.8 403.1,70.1 404.0,71.7 405.3,73.9 406.8,76.5 407.7,78.1 408.8,79.9 410.5,82.8 411.5,84.6 412.5,86.2 414.0,88.7 415.3,91.0 416.3,92.6 417.5,94.6 419.2,97.4 420.2,99.0 421.1,100.6 422.8,103.3 424.1,105.5 425.0,107.1 426.3,109.0 428.0,111.9 429.0,113.5 430.0,115.1 431.5,117.6 433.0,119.9 434.0,121.5 435.0,123.2 436.8,126.0 438.0,128.0 439.0,129.6 440.3,131.6 442.0,134.3 443.0,136.0 444.1,137.6 445.5,139.8 447.2,142.4 448.2,144.0 449.2,145.6 450.7,148.0 452.3,150.5 453.4,152.1 454.4,153.7 456.0,156.1 457.6,158.5 458.6,160.1 459.7,161.7 461.3,164.1 462.9,166.5 463.9,168.1 465.0,169.7 466.5,172.0 468.2,174.6 469.3,176.2 470.4,177.8 471.8,179.9 473.5,182.4 474.7,184.2 475.8,185.8 477.0,187.6 478.8,190.2 480.2,192.2 481.3,193.8 482.4,195.4 484.0,197.8 485.7,200.3 486.8,201.9 487.9,203.5 489.2,205.4 491.0,207.9 492.4,209.9 493.5,211.5 494.6,213.1 496.3,215.4 498.0,217.9 499.2,219.6 500.3,221.2 501.5,222.8 503.3,225.3 504.9,227.6 506.1,229.2 507.2,230.8 508.5,232.6 510.2,235.0 511.8,237.2 513.0,238.8 514.2,240.4 515.5,242.3 517.2,244.7 518.9,246.9 520.0,248.5 521.2,250.1 522.5,251.8 524.2,254.2 526.0,256.5 527.2,258.1 528.4,259.7 529.5,261.3 531.3,263.6 533.0,266.0 534.4,267.8 535.6,269.4 536.8,271.0 538.3,272.9 540.0,275.2 541.6,277.4 542.9,279.0 544.1,280.6 545.3,282.2 547.0,284.4 548.8,286.7 550.2,288.7 551.5,290.3 552.7,291.9 554.0,293.5 555.8,295.8 557.5,298.1 558.9,299.9 560.2,301.5 561.4,303.1 562.7,304.8 564.5,307.0 566.3,309.2 567.8,311.2 569.0,312.8 570.3,314.4 571.6,316.0 573.3,318.1 575.0,320.3 576.7,322.4 578.0,324.0 579.3,325.6 580.5,327.2 582.0,329.0 583.8,331.2 585.5,333.4 587.0,335.3 588.3,336.9 589.6,338.5 590.9,340.1 592.5,342.0 594.2,344.1 596.0,346.3 597.5,348.1 598.8,349.7 600.1,351.3 601.5,352.9 603.0,354.8 604.7,356.9 606.5,359.0 608.1,361.0 609.5,362.6 610.8,364.2 612.2,365.8 613.5,367.4 615.2,369.5 617.0,371.6 618.8,373.6 620.3,375.4 621.6,377.0 623.0,378.6 624.3,380.3 625.8,381.9 627.5,384.0 629.2,386.0 631.0,388.1 632.6,389.9 633.9,391.5 635.3,393.1 636.7,394.7 638.1,396.3 639.7,398.2 641.5,400.3 643.3,402.3 645.0,404.3 646.4,406.0 647.8,407.6 649.2,409.2 650.7,410.8 652.1,412.4 653.8,414.3 655.5,416.3 657.2,418.3 659.0,420.3 660.5,422.0 662.0,423.6 663.4,425.2 664.8,426.9 666.3,428.5 667.7,430.1 669.5,432.1 671.3,434.1 673.0,436.0" stroke="#000" stroke-width="0.8"/><path d="M383.5,1.0 384.4,2.6 386.0,5.6 387.0,7.4 387.9,9.0 389.5,12.0 390.5,13.9 391.4,15.5 393.0,18.3 394.1,20.3 395.0,21.9 396.5,24.6 397.7,26.7 398.6,28.3 400.0,30.9 401.3,33.1 402.2,34.7 403.5,37.0 404.9,39.6 405.9,41.2 407.0,43.2 408.6,46.0 409.6,47.6 410.5,49.2 412.2,52.2 413.3,54.0 414.2,55.6 415.7,58.2 417.1,60.5 418.0,62.1 419.2,64.2 420.9,66.9 421.8,68.5 422.8,70.1 424.5,73.0 425.7,74.9 426.6,76.5 428.0,78.8 429.6,81.3 430.5,83.0 431.5,84.6 433.2,87.4 434.5,89.4 435.4,91.0 436.8,93.1 438.4,95.8 439.4,97.4 440.4,99.0 442.0,101.6 443.4,103.8 444.4,105.5 445.5,107.2 447.2,109.9 448.5,111.9 449.5,113.5 450.8,115.5 452.5,118.2 453.6,119.9 454.6,121.5 456.0,123.7 457.7,126.3 458.8,128.0 459.8,129.6 461.3,131.8 462.9,134.4 464.0,136.0 465.0,137.6 466.5,139.8 468.2,142.4 469.3,144.0 470.3,145.6 471.8,147.7 473.5,150.4 474.6,152.1 475.7,153.7 477.0,155.6 478.8,158.2 480.0,160.1 481.1,161.7 482.2,163.4 484.0,166.0 485.5,168.1 486.6,169.7 487.7,171.3 489.2,173.6 491.0,176.2 492.1,177.8 493.2,179.4 494.5,181.2 496.3,183.8 497.7,185.8 498.8,187.4 499.9,189.0 501.5,191.3 503.3,193.8 504.4,195.4 505.6,197.1 506.8,198.7 508.5,201.2 510.1,203.5 511.3,205.1 512.4,206.7 513.8,208.5 515.5,211.0 517.1,213.1 518.2,214.7 519.4,216.3 520.8,218.2 522.5,220.6 524.1,222.8 525.2,224.4 526.4,226.0 527.7,227.8 529.5,230.2 531.2,232.4 532.3,234.0 533.5,235.6 534.7,237.3 536.5,239.6 538.3,242.0 539.5,243.7 540.7,245.3 541.9,246.9 543.5,248.9 545.2,251.3 546.8,253.3 548.0,254.9 549.2,256.5 550.5,258.2 552.2,260.5 554.0,262.8 555.4,264.5 556.6,266.2 557.8,267.8 559.2,269.6 561.0,271.9 562.7,274.1 564.1,275.8 565.3,277.4 566.6,279.0 568.0,280.8 569.7,283.1 571.5,285.3 572.9,287.0 574.1,288.7 575.4,290.3 576.8,292.0 578.5,294.2 580.2,296.4 581.8,298.3 583.1,299.9 584.3,301.5 585.6,303.1 587.2,305.1 589.0,307.3 590.8,309.5 592.1,311.2 593.4,312.8 594.7,314.4 596.0,316.0 597.7,318.1 599.5,320.2 601.3,322.4 602.6,324.0 603.9,325.6 605.2,327.2 606.5,328.8 608.3,330.9 610.0,333.0 611.8,335.1 613.2,336.9 614.5,338.5 615.9,340.1 617.2,341.7 618.8,343.5 620.5,345.6 622.2,347.7 624.0,349.7 625.3,351.3 626.7,352.9 628.0,354.5 629.4,356.1 631.0,358.0 632.7,360.1 634.5,362.1 636.3,364.2 637.6,365.8 639.0,367.4 640.4,369.0 641.8,370.6 643.3,372.3 645.0,374.3 646.8,376.4 648.5,378.4 650.1,380.3 651.5,381.9 652.9,383.5 654.3,385.1 655.7,386.7 657.2,388.4 659.0,390.4 660.8,392.4 662.5,394.4 664.2,396.3 665.6,397.9 667.1,399.5 668.5,401.1 669.9,402.8 671.4,404.4 673.0,406.2" stroke="#000" stroke-width="0.8"/><path d="M401.6,1.0 402.5,2.6 403.5,4.4 405.2,7.4 406.1,9.0 407.0,10.7 408.8,13.7 409.7,15.5 410.6,17.1 412.2,19.9 413.4,21.9 414.3,23.5 415.7,26.0 417.1,28.3 418.0,29.9 419.2,32.0 420.8,34.7 421.8,36.4 422.8,38.0 424.5,41.0 425.6,42.8 426.5,44.4 428.0,46.9 429.4,49.2 430.4,50.8 431.5,52.7 433.2,55.6 434.2,57.2 435.2,58.9 436.8,61.4 438.1,63.7 439.1,65.3 440.3,67.2 442.0,70.0 443.0,71.7 444.0,73.3 445.5,75.7 447.0,78.1 448.0,79.7 449.0,81.3 450.7,84.1 452.1,86.2 453.1,87.8 454.2,89.7 456.0,92.4 457.1,94.2 458.2,95.8 459.5,97.9 461.2,100.6 462.3,102.2 463.3,103.8 464.7,106.1 466.4,108.7 467.5,110.3 468.5,111.9 470.0,114.2 471.7,116.7 472.7,118.3 473.8,119.9 475.2,122.2 476.9,124.7 478.0,126.3 479.1,128.0 480.5,130.1 482.2,132.7 483.4,134.4 484.5,136.0 485.8,137.9 487.5,140.5 488.8,142.4 489.9,144.0 491.0,145.7 492.7,148.2 494.3,150.5 495.4,152.1 496.5,153.7 498.0,155.9 499.7,158.4 500.9,160.1 502.0,161.7 503.3,163.5 505.0,166.0 506.5,168.1 507.6,169.7 508.8,171.3 510.2,173.4 512.0,175.9 513.3,177.8 514.4,179.4 515.6,181.0 517.2,183.3 519.0,185.8 520.2,187.4 521.3,189.0 522.5,190.6 524.2,193.1 526.0,195.4 527.1,197.1 528.3,198.7 529.5,200.3 531.3,202.7 533.0,205.1 534.2,206.7 535.4,208.3 536.6,209.9 538.3,212.2 540.0,214.6 541.3,216.3 542.5,217.9 543.7,219.6 545.2,221.6 547.0,224.0 548.5,226.0 549.7,227.6 550.9,229.2 552.2,230.9 554.0,233.2 555.8,235.5 557.0,237.2 558.3,238.8 559.5,240.4 561.0,242.4 562.7,244.7 564.4,246.9 565.7,248.5 566.9,250.1 568.2,251.7 569.7,253.7 571.5,256.0 573.2,258.1 574.4,259.7 575.7,261.3 576.9,262.9 578.5,264.9 580.2,267.2 582.0,269.4 583.3,271.0 584.5,272.6 585.8,274.2 587.2,276.0 589.0,278.2 590.8,280.4 592.2,282.2 593.5,283.8 594.8,285.4 596.1,287.0 597.7,289.1 599.5,291.2 601.3,293.4 602.6,295.1 603.9,296.7 605.2,298.3 606.6,299.9 608.3,302.0 610.0,304.1 611.8,306.2 613.2,307.9 614.5,309.5 615.8,311.2 617.2,312.8 618.8,314.7 620.5,316.8 622.2,318.9 623.9,320.8 625.2,322.4 626.5,324.0 627.9,325.6 629.3,327.2 631.0,329.3 632.7,331.4 634.5,333.4 636.1,335.3 637.4,336.9 638.8,338.5 640.2,340.1 641.5,341.7 643.3,343.7 645.0,345.7 646.8,347.8 648.4,349.7 649.8,351.3 651.2,352.9 652.6,354.5 654.0,356.1 655.5,357.9 657.2,359.9 659.0,361.9 660.8,363.9 662.4,365.8 663.8,367.4 665.3,369.0 666.7,370.6 668.1,372.2 669.5,373.8 671.3,375.8 673.0,377.8" stroke="#000" stroke-width="0.8"/><path d="M419.3,1.0 421.0,4.0 422.1,5.8 423.0,7.4 424.5,10.0 425.8,12.2 426.7,13.9 428.0,16.0 429.6,18.7 430.5,20.3 431.5,22.0 433.2,24.9 434.3,26.7 435.3,28.3 436.8,30.8 438.2,33.1 439.1,34.7 440.2,36.6 442.0,39.5 443.0,41.2 444.0,42.8 445.5,45.3 446.9,47.6 447.9,49.2 449.0,51.0 450.7,53.8 451.9,55.6 452.9,57.2 454.2,59.5 455.9,62.1 456.9,63.7 457.9,65.3 459.5,67.8 460.9,70.1 461.9,71.7 463.0,73.4 464.7,76.1 466.0,78.1 467.1,79.7 468.3,81.6 470.0,84.3 471.2,86.2 472.2,87.8 473.5,89.7 475.2,92.4 476.4,94.2 477.5,95.8 478.8,97.8 480.5,100.4 481.7,102.2 482.7,103.8 484.0,105.7 485.8,108.4 487.0,110.3 488.1,111.9 489.2,113.6 491.0,116.2 492.4,118.3 493.5,119.9 494.6,121.5 496.3,124.0 497.8,126.3 498.9,128.0 500.0,129.6 501.5,131.7 503.3,134.2 504.4,136.0 505.6,137.6 506.8,139.3 508.5,141.8 510.0,144.0 511.1,145.6 512.3,147.2 513.8,149.4 515.5,151.9 516.8,153.7 517.9,155.3 519.0,156.9 520.8,159.3 522.5,161.7 523.6,163.3 524.8,164.9 526.0,166.6 527.7,169.1 529.4,171.3 530.5,172.9 531.7,174.6 533.0,176.4 534.7,178.8 536.4,181.0 537.5,182.6 538.7,184.2 540.0,185.9 541.8,188.3 543.4,190.6 544.6,192.2 545.8,193.8 547.0,195.4 548.8,197.8 550.5,200.1 551.8,201.9 553.0,203.5 554.2,205.1 555.8,207.1 557.5,209.5 559.1,211.5 560.3,213.1 561.5,214.7 562.7,216.4 564.5,218.7 566.3,221.0 567.6,222.8 568.9,224.4 570.1,226.0 571.5,227.8 573.3,230.1 575.0,232.3 576.3,234.0 577.6,235.6 578.8,237.2 580.2,239.1 582.0,241.3 583.8,243.5 585.1,245.3 586.4,246.9 587.6,248.5 589.0,250.2 590.8,252.4 592.5,254.6 594.0,256.5 595.3,258.1 596.6,259.7 597.9,261.3 599.5,263.4 601.3,265.5 603.0,267.7 604.3,269.4 605.6,271.0 607.0,272.6 608.3,274.2 610.0,276.3 611.8,278.5 613.5,280.6 614.8,282.2 616.1,283.8 617.5,285.4 618.8,287.0 620.5,289.1 622.2,291.2 624.0,293.3 625.5,295.1 626.8,296.7 628.1,298.3 629.5,299.9 631.0,301.7 632.7,303.8 634.5,305.9 636.2,307.9 637.6,309.5 638.9,311.2 640.3,312.8 641.7,314.4 643.3,316.2 645.0,318.3 646.8,320.3 648.5,322.4 649.9,324.0 651.3,325.6 652.7,327.2 654.1,328.8 655.5,330.5 657.2,332.5 659.0,334.5 660.8,336.5 662.4,338.5 663.8,340.1 665.2,341.7 666.6,343.3 668.1,344.9 669.5,346.5 671.3,348.5 673.0,350.5" stroke="#000" stroke-width="0.8"/><path d="M436.7,1.0 437.6,2.6 438.6,4.2 440.3,7.1 441.4,9.0 442.4,10.6 443.8,12.9 445.3,15.5 446.2,17.1 447.2,18.7 449.0,21.6 450.1,23.5 451.1,25.1 452.5,27.4 454.1,29.9 455.1,31.5 456.0,33.1 457.8,35.9 459.0,38.0 460.0,39.6 461.3,41.5 463.0,44.3 464.0,46.0 465.1,47.6 466.5,49.9 468.1,52.4 469.1,54.0 470.1,55.6 471.8,58.2 473.2,60.5 474.2,62.1 475.3,63.7 477.0,66.4 478.4,68.5 479.4,70.1 480.5,71.8 482.2,74.5 483.6,76.5 484.7,78.1 485.8,79.8 487.5,82.5 488.9,84.6 489.9,86.2 491.0,87.8 492.7,90.4 494.2,92.6 495.3,94.2 496.4,95.8 498.0,98.2 499.6,100.6 500.7,102.2 501.8,103.8 503.3,106.0 505.0,108.6 506.2,110.3 507.3,111.9 508.5,113.7 510.2,116.2 511.7,118.3 512.8,119.9 513.9,121.5 515.5,123.8 517.2,126.3 518.4,128.0 519.5,129.6 520.8,131.3 522.5,133.8 524.0,136.0 525.2,137.6 526.3,139.2 527.7,141.3 529.5,143.7 530.9,145.6 532.0,147.2 533.2,148.8 534.7,151.0 536.5,153.5 537.8,155.3 539.0,156.9 540.1,158.5 541.8,160.7 543.5,163.1 544.8,164.9 546.0,166.5 547.2,168.1 548.8,170.3 550.5,172.7 551.9,174.6 553.1,176.2 554.3,177.8 555.8,179.7 557.5,182.1 559.1,184.2 560.3,185.8 561.5,187.4 562.7,189.1 564.5,191.4 566.3,193.7 567.6,195.4 568.8,197.1 570.0,198.7 571.5,200.6 573.3,202.9 574.9,205.1 576.2,206.7 577.4,208.3 578.7,209.9 580.2,212.0 582.0,214.2 583.6,216.3 584.9,217.9 586.1,219.6 587.4,221.2 589.0,223.2 590.8,225.4 592.4,227.6 593.7,229.2 595.0,230.8 596.3,232.4 597.7,234.3 599.5,236.5 601.3,238.7 602.7,240.4 603.9,242.1 605.2,243.7 606.5,245.3 608.3,247.4 610.0,249.6 611.7,251.7 613.0,253.3 614.3,254.9 615.6,256.5 617.0,258.2 618.8,260.3 620.5,262.5 622.2,264.5 623.5,266.2 624.9,267.8 626.2,269.4 627.5,271.0 629.2,273.1 631.0,275.2 632.7,277.3 634.2,279.0 635.5,280.6 636.9,282.2 638.2,283.8 639.7,285.6 641.5,287.7 643.3,289.8 645.0,291.9 646.4,293.5 647.7,295.1 649.1,296.7 650.5,298.3 652.0,300.1 653.8,302.1 655.5,304.2 657.2,306.2 658.7,307.9 660.1,309.5 661.5,311.2 662.9,312.8 664.3,314.4 666.0,316.3 667.7,318.3 669.5,320.3 671.3,322.3 672.7,324.0 673.0,324.3" stroke="#000" stroke-width="0.8"/></g><path d="M105.6,81.9 L108.3,90.2 L117.0,90.2 L110.0,95.3 L112.7,103.6 L105.6,98.5 L98.5,103.6 L101.2,95.3 L94.2,90.2 L102.9,90.2Z" fill="#FFA500" stroke="#FFA500" stroke-width="3" stroke-linejoin="round"/><path d="M150.3,158.6 L153.0,166.9 L161.7,166.9 L154.7,172.0 L157.4,180.3 L150.3,175.2 L143.2,180.3 L145.9,172.0 L138.9,166.9 L147.6,166.9Z" fill="#00BFFF" stroke="#00BFFF" stroke-width="3" stroke-linejoin="round"/><path d="M444.0,514.0 L446.7,522.3 L455.4,522.3 L448.4,527.4 L451.1,535.7 L444.0,530.6 L436.9,535.7 L439.6,527.4 L432.6,522.3 L441.3,522.3Z" fill="#000080" stroke="#000080" stroke-width="3" stroke-linejoin="round"/><path d="M207.7,91.7 L224.7,108.7 M207.7,108.7 L224.7,91.7" stroke="#FFA500" stroke-width="4.6" fill="none"/><path d="M209.0,111.3 L226.0,128.3 M209.0,128.3 L226.0,111.3" stroke="#00BFFF" stroke-width="4.6" fill="none"/><path d="M301.7,214.8 L318.7,231.8 M301.7,231.8 L318.7,214.8" stroke="#000080" stroke-width="4.6" fill="none"/><path d="M340.2,118.8 L350.9,111.6" fill="none" stroke="#FFA500" stroke-width="3.5" stroke-linejoin="round"/><path d="M300.6,91.2 L310.3,90.4 L320.5,93.4" fill="none" stroke="#FFA500" stroke-width="3.5" stroke-linejoin="round"/><path d="M319.8,96.6 L330.8,101.2" fill="none" stroke="#FFA500" stroke-width="3.5" stroke-linejoin="round"/><path d="M329.0,95.8 L341.0,98.9" fill="none" stroke="#FFA500" stroke-width="3.5" stroke-linejoin="round"/><path d="M337.2,104.3 L348.1,101.2 L359.4,105.0" fill="none" stroke="#FFA500" stroke-width="3.5" stroke-linejoin="round"/><path d="M365.5,107.9 L458.2,133.6" fill="none" stroke="#FFA500" stroke-width="3.5" stroke-dasharray="13.2 6.1"/><path d="M487.6,282.2 L505.6,254.2 L346.2,132.2 L357.2,132.2 L376.5,136.9 L395.1,141.6 L415.0,145.1 L443.4,153.9 L456.0,159.8" fill="none" stroke="#00BFFF" stroke-width="3.5" stroke-dasharray="13.2 6.1" stroke-dashoffset="-3.5"/><path d="M627.2,399.5 L616.6,392.2" fill="none" stroke="#000080" stroke-width="3.5" stroke-linejoin="miter"/><path d="M615.7,384.9 L612.9,372.9" fill="none" stroke="#000080" stroke-width="3.5" stroke-linejoin="miter"/><path d="M608.3,365.6 L625.3,377.5" fill="none" stroke="#000080" stroke-width="3.5" stroke-linejoin="miter"/><path d="M592.8,352.8 L603.8,360.1" fill="none" stroke="#000080" stroke-width="3.5" stroke-linejoin="miter"/><path d="M576.8,339.9 L588.4,348.6" fill="none" stroke="#000080" stroke-width="3.5" stroke-linejoin="miter"/><path d="M560.0,331.1 L571.6,337.7" fill="none" stroke="#000080" stroke-width="3.5" stroke-linejoin="miter"/><path d="M542.4,321.6 L554.9,328.2" fill="none" stroke="#000080" stroke-width="3.5" stroke-linejoin="miter"/><path d="M525.7,312.8 L538.1,318.7" fill="none" stroke="#000080" stroke-width="3.5" stroke-linejoin="miter"/><path d="M509.6,301.2 L516.9,307.2 L520.5,309.2" fill="none" stroke="#000080" stroke-width="3.5" stroke-linejoin="miter"/><path d="M495.5,287.0 L506.0,296.3" fill="none" stroke="#000080" stroke-width="3.5" stroke-linejoin="miter"/><path d="M481.0,273.9 L492.0,283.1" fill="none" stroke="#000080" stroke-width="3.5" stroke-linejoin="miter"/><path d="M469.5,261.6 L477.3,269.4" fill="none" stroke="#000080" stroke-width="3.5" stroke-linejoin="miter"/><path d="M453.0,247.1 L463.4,255.9" fill="none" stroke="#000080" stroke-width="3.5" stroke-linejoin="miter"/><path d="M446.6,243.1 L447.4,230.5" fill="none" stroke="#000080" stroke-width="3.5" stroke-linejoin="miter"/><path d="M448.2,224.6 L450.6,209.3" fill="none" stroke="#000080" stroke-width="3.5" stroke-linejoin="miter"/><path d="M451.4,202.1 L452.2,179.6 L461.0,180.4" fill="none" stroke="#000080" stroke-width="3.5" stroke-linejoin="miter"/><path d="M476.3,177.2 L498.0,185.3" fill="none" stroke="#000080" stroke-width="3.5" stroke-linejoin="miter"/><circle cx="339.9" cy="119.1" r="8.6" fill="none" stroke="#FFA500" stroke-width="2.4"/><circle cx="487.6" cy="282.4" r="8.6" fill="none" stroke="#00BFFF" stroke-width="2.4"/><circle cx="627.4" cy="399.2" r="8.6" fill="none" stroke="#000080" stroke-width="2.4"/><circle cx="458.2" cy="133.6" r="10" fill="#FFA500"/><circle cx="456.0" cy="159.8" r="10" fill="#00BFFF"/><circle cx="476.3" cy="177.2" r="10" fill="#000080"/><rect x="94.9" y="8.1" width="22.5" height="16.7" fill="#fff"/><text x="106.1" y="21.7" text-anchor="middle" font-size="18.4" fill="#000" stroke="#000" stroke-width="0.25" font-family="Liberation Sans, sans-serif">30</text><rect x="144.3" y="8.1" width="22.5" height="16.7" fill="#fff"/><text x="155.5" y="21.7" text-anchor="middle" font-size="18.4" fill="#000" stroke="#000" stroke-width="0.25" font-family="Liberation Sans, sans-serif">32</text><rect x="193.6" y="8.1" width="22.5" height="16.7" fill="#fff"/><text x="204.8" y="21.7" text-anchor="middle" font-size="18.4" fill="#000" stroke="#000" stroke-width="0.25" font-family="Liberation Sans, sans-serif">34</text><rect x="240.1" y="8.1" width="22.5" height="16.7" fill="#fff"/><text x="251.3" y="21.7" text-anchor="middle" font-size="18.4" fill="#000" stroke="#000" stroke-width="0.25" font-family="Liberation Sans, sans-serif">36</text><rect x="282.6" y="8.1" width="22.5" height="16.7" fill="#fff"/><text x="293.8" y="21.7" text-anchor="middle" font-size="18.4" fill="#000" stroke="#000" stroke-width="0.25" font-family="Liberation Sans, sans-serif">38</text><rect x="323.5" y="8.1" width="22.5" height="16.7" fill="#fff"/><text x="334.7" y="21.7" text-anchor="middle" font-size="18.4" fill="#000" stroke="#000" stroke-width="0.25" font-family="Liberation Sans, sans-serif">40</text><rect x="362.0" y="8.1" width="22.5" height="16.7" fill="#fff"/><text x="373.2" y="21.7" text-anchor="middle" font-size="18.4" fill="#000" stroke="#000" stroke-width="0.25" font-family="Liberation Sans, sans-serif">42</text><rect x="399.0" y="8.1" width="22.5" height="16.7" fill="#fff"/><text x="410.2" y="21.7" text-anchor="middle" font-size="18.4" fill="#000" stroke="#000" stroke-width="0.25" font-family="Liberation Sans, sans-serif">44</text><rect x="435.5" y="8.1" width="22.5" height="16.7" fill="#fff"/><text x="446.7" y="21.7" text-anchor="middle" font-size="18.4" fill="#000" stroke="#000" stroke-width="0.25" font-family="Liberation Sans, sans-serif">46</text><rect x="435.1" y="547.1" width="22.5" height="16.7" fill="#fff"/><text x="446.3" y="560.7" text-anchor="middle" font-size="18.4" fill="#ff0000" stroke="#ff0000" stroke-width="0.25" font-family="Liberation Sans, sans-serif">22</text><rect x="528.1" y="549.7" width="22.5" height="16.7" fill="#fff"/><text x="539.3" y="563.3" text-anchor="middle" font-size="18.4" fill="#ff0000" stroke="#ff0000" stroke-width="0.25" font-family="Liberation Sans, sans-serif">23</text><rect x="618.2" y="550.6" width="22.5" height="16.7" fill="#fff"/><text x="629.4" y="564.2" text-anchor="middle" font-size="18.4" fill="#ff0000" stroke="#ff0000" stroke-width="0.25" font-family="Liberation Sans, sans-serif">24</text><rect x="642.4" y="507.0" width="22.5" height="16.7" fill="#fff"/><text x="653.6" y="520.6" text-anchor="middle" font-size="18.4" fill="#ff0000" stroke="#ff0000" stroke-width="0.25" font-family="Liberation Sans, sans-serif">25</text><rect x="644.6" y="450.5" width="22.5" height="16.7" fill="#fff"/><text x="655.8" y="464.1" text-anchor="middle" font-size="18.4" fill="#ff0000" stroke="#ff0000" stroke-width="0.25" font-family="Liberation Sans, sans-serif">26</text><rect x="647.0" y="389.3" width="22.5" height="16.7" fill="#fff"/><text x="658.2" y="402.9" text-anchor="middle" font-size="18.4" fill="#ff0000" stroke="#ff0000" stroke-width="0.25" font-family="Liberation Sans, sans-serif">27</text><rect x="646.3" y="325.9" width="22.5" height="16.7" fill="#fff"/><text x="657.5" y="339.5" text-anchor="middle" font-size="18.4" fill="#ff0000" stroke="#ff0000" stroke-width="0.25" font-family="Liberation Sans, sans-serif">28</text><rect x="646.7" y="263.2" width="22.5" height="16.7" fill="#fff"/><text x="657.9" y="276.8" text-anchor="middle" font-size="18.4" fill="#ff0000" stroke="#ff0000" stroke-width="0.25" font-family="Liberation Sans, sans-serif">29</text><text x="469.9" y="23.6" font-size="21.5" fill="#000" stroke="#000" stroke-width="0.25" font-family="Liberation Sans, sans-serif">Heat index (°C)</text><text transform="translate(640.2,236.8) rotate(-90)" font-size="21.6" fill="#ff0000" stroke="#ff0000" stroke-width="0.25" font-family="Liberation Sans, sans-serif">Wet-bulb</text><text transform="translate(663,237) rotate(-90)" font-size="21.6" fill="#ff0000" stroke="#ff0000" stroke-width="0.25" font-family="Liberation Sans, sans-serif">temperature (°C)</text><path d="M78,259.7 H247 V413.7 H520.4 V491 H78 Z" fill="#fff" fill-opacity="0.88"/><text x="147.0" y="276.5" font-size="18.4" fill="#000" stroke="#000" stroke-width="0.25" font-family="Liberation Sans, sans-serif">Colours</text><text x="147.0" y="302.9" font-size="18.4" fill="#000" stroke="#000" stroke-width="0.25" font-family="Liberation Sans, sans-serif">Regime 1</text><text x="147.0" y="329.3" font-size="18.4" fill="#000" stroke="#000" stroke-width="0.25" font-family="Liberation Sans, sans-serif">Regime 2</text><text x="147.0" y="355.7" font-size="18.4" fill="#000" stroke="#000" stroke-width="0.25" font-family="Liberation Sans, sans-serif">Regime 3</text><text x="147.0" y="382.1" font-size="18.4" fill="#000" stroke="#000" stroke-width="0.25" font-family="Liberation Sans, sans-serif">Symbols</text><text x="147.0" y="408.5" font-size="18.4" fill="#000" stroke="#000" stroke-width="0.25" font-family="Liberation Sans, sans-serif">Climatology</text><text x="147.0" y="434.9" font-size="18.4" fill="#000" stroke="#000" stroke-width="0.25" font-family="Liberation Sans, sans-serif">Mean max Twb in all heatwaves</text><text x="147.0" y="461.3" font-size="18.4" fill="#000" stroke="#000" stroke-width="0.25" font-family="Liberation Sans, sans-serif">Mean Twb 7 days before extreme heatwaves</text><text x="147.0" y="487.7" font-size="18.4" fill="#000" stroke="#000" stroke-width="0.25" font-family="Liberation Sans, sans-serif">Mean max Twb in extreme heatwaves</text><rect x="100.3" y="285.6" width="24.4" height="24.2" rx="1" fill="#000080"/><rect x="100.3" y="312.0" width="24.4" height="24.2" rx="1" fill="#FFA500"/><rect x="100.3" y="338.4" width="24.4" height="24.2" rx="1" fill="#00BFFF"/><path d="M112.6,393.1 L115.0,400.6 L123.0,400.6 L116.6,405.3 L119.0,412.8 L112.6,408.2 L106.2,412.8 L108.6,405.3 L102.2,400.6 L110.2,400.6Z" fill="#4a4a4a" stroke="#4a4a4a" stroke-width="3" stroke-linejoin="round"/><path d="M104.2,421.5 L121.0,438.3 M104.2,438.3 L121.0,421.5" stroke="#4a4a4a" stroke-width="4.4" fill="none"/><circle cx="112.6" cy="456.5" r="10" fill="none" stroke="#4a4a4a" stroke-width="2.8"/><circle cx="112.6" cy="482.9" r="11.4" fill="#4a4a4a"/><rect x="78" y="1" width="595.3" height="578.6" fill="none" stroke="#000" stroke-width="2.5"/><line x1="67" y1="541.0" x2="78" y2="541.0" stroke="#000" stroke-width="2.4"/><text x="57.1" y="548.6" text-anchor="end" font-size="22.5" fill="#000" stroke="#000" stroke-width="0.25" font-family="Liberation Sans, sans-serif">45</text><line x1="67" y1="476.7" x2="78" y2="476.7" stroke="#000" stroke-width="2.4"/><text x="57.1" y="484.3" text-anchor="end" font-size="22.5" fill="#000" stroke="#000" stroke-width="0.25" font-family="Liberation Sans, sans-serif">50</text><line x1="67" y1="412.4" x2="78" y2="412.4" stroke="#000" stroke-width="2.4"/><text x="57.1" y="420.0" text-anchor="end" font-size="22.5" fill="#000" stroke="#000" stroke-width="0.25" font-family="Liberation Sans, sans-serif">55</text><line x1="67" y1="348.1" x2="78" y2="348.1" stroke="#000" stroke-width="2.4"/><text x="57.1" y="355.7" text-anchor="end" font-size="22.5" fill="#000" stroke="#000" stroke-width="0.25" font-family="Liberation Sans, sans-serif">60</text><line x1="67" y1="283.8" x2="78" y2="283.8" stroke="#000" stroke-width="2.4"/><text x="57.1" y="291.4" text-anchor="end" font-size="22.5" fill="#000" stroke="#000" stroke-width="0.25" font-family="Liberation Sans, sans-serif">65</text><line x1="67" y1="219.6" x2="78" y2="219.6" stroke="#000" stroke-width="2.4"/><text x="57.1" y="227.2" text-anchor="end" font-size="22.5" fill="#000" stroke="#000" stroke-width="0.25" font-family="Liberation Sans, sans-serif">70</text><line x1="67" y1="155.3" x2="78" y2="155.3" stroke="#000" stroke-width="2.4"/><text x="57.1" y="162.9" text-anchor="end" font-size="22.5" fill="#000" stroke="#000" stroke-width="0.25" font-family="Liberation Sans, sans-serif">75</text><line x1="67" y1="91.0" x2="78" y2="91.0" stroke="#000" stroke-width="2.4"/><text x="57.1" y="98.6" text-anchor="end" font-size="22.5" fill="#000" stroke="#000" stroke-width="0.25" font-family="Liberation Sans, sans-serif">80</text><line x1="67" y1="26.7" x2="78" y2="26.7" stroke="#000" stroke-width="2.4"/><text x="57.1" y="34.3" text-anchor="end" font-size="22.5" fill="#000" stroke="#000" stroke-width="0.25" font-family="Liberation Sans, sans-serif">85</text><line x1="113.0" y1="579.5" x2="113.0" y2="590.6" stroke="#000" stroke-width="2.4"/><text x="113.0" y="617" text-anchor="middle" font-size="22.6" fill="#000" stroke="#000" stroke-width="0.25" font-family="Liberation Sans, sans-serif">27</text><line x1="183.0" y1="579.5" x2="183.0" y2="590.6" stroke="#000" stroke-width="2.4"/><text x="183.0" y="617" text-anchor="middle" font-size="22.6" fill="#000" stroke="#000" stroke-width="0.25" font-family="Liberation Sans, sans-serif">28</text><line x1="253.0" y1="579.5" x2="253.0" y2="590.6" stroke="#000" stroke-width="2.4"/><text x="253.0" y="617" text-anchor="middle" font-size="22.6" fill="#000" stroke="#000" stroke-width="0.25" font-family="Liberation Sans, sans-serif">29</text><line x1="323.0" y1="579.5" x2="323.0" y2="590.6" stroke="#000" stroke-width="2.4"/><text x="323.0" y="617" text-anchor="middle" font-size="22.6" fill="#000" stroke="#000" stroke-width="0.25" font-family="Liberation Sans, sans-serif">30</text><line x1="393.0" y1="579.5" x2="393.0" y2="590.6" stroke="#000" stroke-width="2.4"/><text x="393.0" y="617" text-anchor="middle" font-size="22.6" fill="#000" stroke="#000" stroke-width="0.25" font-family="Liberation Sans, sans-serif">31</text><line x1="463.0" y1="579.5" x2="463.0" y2="590.6" stroke="#000" stroke-width="2.4"/><text x="463.0" y="617" text-anchor="middle" font-size="22.6" fill="#000" stroke="#000" stroke-width="0.25" font-family="Liberation Sans, sans-serif">32</text><line x1="533.0" y1="579.5" x2="533.0" y2="590.6" stroke="#000" stroke-width="2.4"/><text x="533.0" y="617" text-anchor="middle" font-size="22.6" fill="#000" stroke="#000" stroke-width="0.25" font-family="Liberation Sans, sans-serif">33</text><line x1="603.0" y1="579.5" x2="603.0" y2="590.6" stroke="#000" stroke-width="2.4"/><text x="603.0" y="617" text-anchor="middle" font-size="22.6" fill="#000" stroke="#000" stroke-width="0.25" font-family="Liberation Sans, sans-serif">34</text><line x1="673.0" y1="579.5" x2="673.0" y2="590.6" stroke="#000" stroke-width="2.4"/><text x="673.0" y="617" text-anchor="middle" font-size="22.6" fill="#000" stroke="#000" stroke-width="0.25" font-family="Liberation Sans, sans-serif">35</text><text x="377" y="648.3" text-anchor="middle" font-size="21.7" fill="#000" stroke="#000" stroke-width="0.25" font-family="Liberation Sans, sans-serif">Temperature (2m) (°C)</text><text transform="translate(15.2,289.5) rotate(-90)" text-anchor="middle" font-size="21.5" fill="#000" stroke="#000" stroke-width="0.25" font-family="Liberation Sans, sans-serif">Relative humidity (%)</text></svg></body></html>
